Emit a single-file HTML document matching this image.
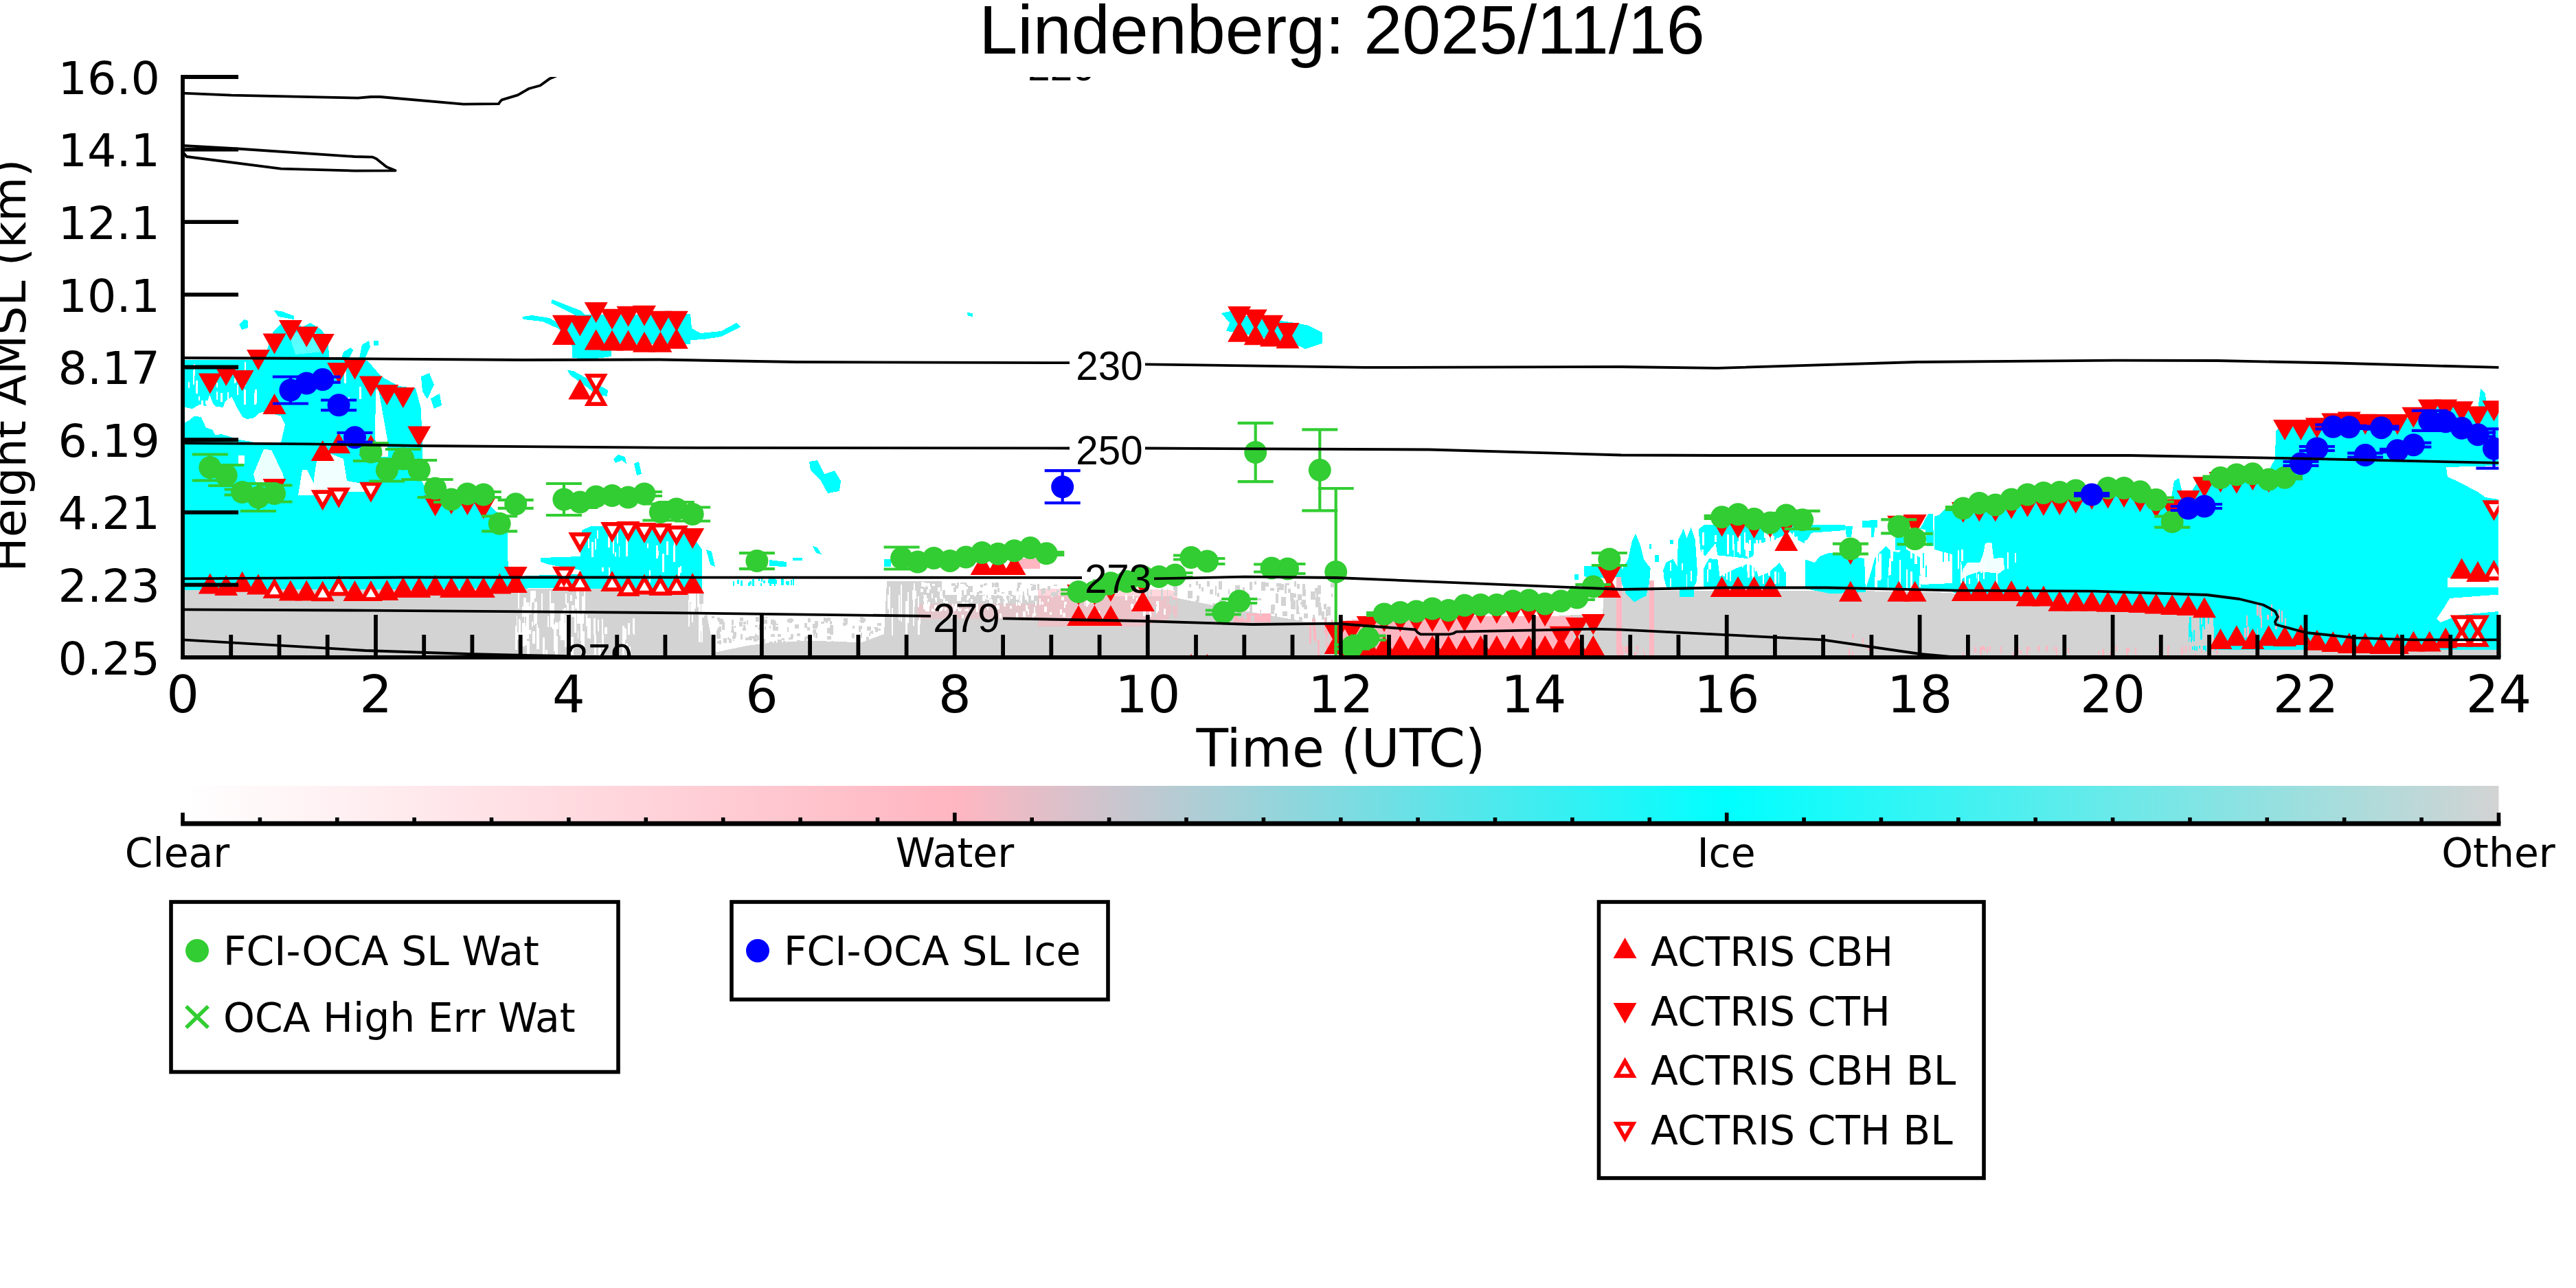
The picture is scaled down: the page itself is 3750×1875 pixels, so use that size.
<!DOCTYPE html>
<html lang="en"><head><meta charset="utf-8"><title>Lindenberg: 2025/11/16</title>
<style>html,body{margin:0;padding:0;background:#fff;}body{width:3750px;height:1875px;overflow:hidden;}svg{display:block;}.dv{font-family:"DejaVu Sans","Liberation Sans",sans-serif;fill:#000;}.lb{font-family:"Liberation Sans","DejaVu Sans",sans-serif;fill:#000;}</style></head><body>
<svg width="3750" height="1875" viewBox="0 0 3750 1875">
<defs>
<clipPath id="ax"><rect x="266.0" y="112.0" width="3371.5" height="845.0"/></clipPath>
<linearGradient id="cb" x1="0" x2="1" y1="0" y2="0"><stop offset="0" stop-color="#ffffff"/><stop offset="0.3333" stop-color="#ffb6c1"/><stop offset="0.6667" stop-color="#00ffff"/><stop offset="1" stop-color="#d3d3d3"/></linearGradient>
</defs>
<rect x="0" y="0" width="3750" height="1875" fill="#fff"/>
<g clip-path="url(#ax)">
<g shape-rendering="crispEdges">
<path d="M266.0 858.0 L740.0 857.0 L1022.0 857.0 L1025.0 866.0 L1030.0 900.0 L1040.0 950.0 L1087.0 940.0 L1116.0 936.5 L1175.0 932.6 L1233.0 934.5 L1252.0 936.0 L1287.0 923.0 L1291.0 846.0 L1371.0 846.0 L1371.0 866.0 L1700.0 868.0 L1760.0 880.0 L1900.0 905.0 L1945.0 908.0 L1945.0 957.0 L266.0 957.0Z" fill="#d3d3d3"/>
<path d="M2254.0 912.0 L2270.0 896.0 L2333.0 894.0 L2335.0 862.0 L2360.0 860.0 L2420.0 860.0 L2700.0 860.0 L2816.0 862.0 L2850.0 864.0 L3050.0 882.0 L3180.0 890.0 L3228.0 900.0 L3228.0 946.0 L3640.0 946.0 L3640.0 957.0 L2254.0 957.0Z" fill="#d3d3d3"/>
<path d="M1990.0 897.0 L2290.0 897.0 L2290.0 957.0 L1990.0 957.0Z" fill="#ffb6c1"/>
<path d="M1945.0 905.0 L1990.0 900.0 L1990.0 957.0 L1945.0 957.0Z" fill="#ffb6c1"/>
<path d="M1796.0 893.0 L1850.0 893.0 L1850.0 906.0 L1796.0 906.0Z" fill="#ffb6c1"/>
<path d="M1480.0 813.0 L1514.0 813.0 L1514.0 828.0 L1480.0 828.0Z" fill="#ffb6c1"/>
<path d="M2401.0 845.0 L2408.0 845.0 L2408.0 955.0 L2401.0 955.0Z" fill="#ffb6c1"/>
<path d="M2353.0 835.0 L2361.0 835.0 L2361.0 955.0 L2353.0 955.0Z" fill="#ffb6c1"/>
<path d="M1511.0 857.0 L1660.0 857.0 L1714.0 860.0 L1714.0 898.0 L1660.0 912.0 L1511.0 912.0Z" fill="#ffb6c1" fill-opacity="0.55"/>
<path d="M1335.0 879.0 L1511.0 879.0 L1511.0 901.0 L1335.0 901.0Z" fill="#ffb6c1" fill-opacity="0.4"/>
<path d="M266.0 524.0 L386.0 524.0 L390.0 505.0 L398.0 482.0 L410.0 470.0 L425.0 466.0 L440.0 476.0 L452.0 470.0 L468.0 480.0 L478.0 495.0 L479.0 524.0 L535.0 525.0 L555.0 548.0 L580.0 562.0 L605.0 565.0 L612.5 593.0 L615.0 640.0 L614.0 700.0 L622.0 716.0 L640.0 722.0 L700.0 722.0 L722.0 745.0 L738.0 750.0 L740.0 838.0 L768.0 840.0 L768.0 857.0 L266.0 859.0Z" fill="#00ffff"/>
<path d="M764.0 838.0 L847.0 836.0 L847.0 856.0 L764.0 856.0Z" fill="#00ffff"/>
<path d="M847.0 772.0 L860.0 766.0 L1000.0 767.0 L1015.0 790.0 L1022.0 800.0 L1022.0 857.0 L843.0 857.0 L845.0 830.0 L800.0 822.0 L787.0 818.0 L787.0 812.0 L845.0 810.0Z" fill="#00ffff"/>
<path d="M1028.0 800.0 L1036.0 803.0 L1041.0 825.0 L1034.0 822.0Z" fill="#00ffff"/>
<path d="M1120.0 815.0 L1145.0 818.0 L1145.0 825.0 L1120.0 824.0Z" fill="#00ffff"/>
<path d="M1154.0 812.0 L1168.0 812.0 L1168.0 816.0 L1154.0 816.0Z" fill="#00ffff"/>
<path d="M1178.0 672.0 L1190.0 670.0 L1200.0 690.0 L1215.0 685.0 L1224.0 700.0 L1222.0 715.0 L1205.0 718.0 L1195.0 700.0 L1180.0 685.0Z" fill="#00ffff"/>
<path d="M1183.0 795.0 L1190.0 797.0 L1196.0 807.0 L1188.0 805.0Z" fill="#00ffff"/>
<path d="M1287.0 814.0 L1297.0 814.0 L1297.0 825.0 L1287.0 825.0Z" fill="#00ffff"/>
<path d="M893.0 668.0 L900.0 662.0 L910.0 665.0 L912.0 675.0 L905.0 670.0 L896.0 674.0Z" fill="#00ffff"/>
<path d="M923.0 675.0 L930.0 672.0 L934.0 690.0 L927.0 692.0Z" fill="#00ffff"/>
<path d="M613.0 548.0 L625.0 543.0 L632.0 560.0 L622.0 581.0 L615.0 570.0Z" fill="#00ffff"/>
<path d="M627.0 580.0 L640.0 573.0 L643.0 590.0 L632.0 595.0Z" fill="#00ffff"/>
<path d="M348.0 472.0 L355.0 465.0 L361.0 467.0 L361.0 477.0 L352.0 480.0Z" fill="#00ffff"/>
<path d="M399.0 452.0 L410.0 453.0 L428.0 460.0 L428.0 465.0 L405.0 461.0Z" fill="#00ffff"/>
<path d="M495.0 528.0 L500.0 512.0 L511.0 506.0 L514.0 510.0 L505.0 528.0Z" fill="#00ffff"/>
<path d="M523.0 522.0 L527.0 502.0 L537.0 496.0 L539.0 505.0 L531.0 522.0Z" fill="#00ffff"/>
<path d="M544.0 496.0 L551.0 496.0 L551.0 503.0 L544.0 503.0Z" fill="#00ffff"/>
<path d="M760.0 461.0 L775.0 459.0 L800.0 463.0 L812.0 470.0 L830.0 468.0 L836.0 458.0 L802.0 441.0 L804.0 436.0 L845.0 452.0 L852.0 458.0 L1005.0 457.0 L1007.0 478.0 L1020.0 485.0 L1050.0 482.0 L1072.0 470.0 L1078.0 476.0 L1050.0 490.0 L1025.0 494.0 L1005.0 495.0 L1005.0 501.0 L890.0 501.0 L890.0 519.0 L860.0 523.0 L833.0 521.0 L833.0 505.0 L828.0 490.0 L812.0 478.0 L790.0 468.0 L762.0 465.0Z" fill="#00ffff"/>
<path d="M826.0 539.0 L835.0 540.0 L885.0 568.0 L884.0 577.0 L870.0 575.0 L830.0 546.0Z" fill="#00ffff"/>
<path d="M1778.0 456.0 L1795.0 452.0 L1802.0 458.0 L1885.0 470.0 L1905.0 474.0 L1925.0 484.0 L1925.0 500.0 L1900.0 508.0 L1883.0 500.0 L1800.0 484.0 L1785.0 482.0 L1790.0 470.0Z" fill="#00ffff"/>
<path d="M1408.0 455.0 L1416.0 456.0 L1416.0 461.0 L1409.0 460.0Z" fill="#00ffff"/>
<path d="M2306.4 823.9 L2360.7 823.9 L2360.7 839.4 L2340.0 842.0 L2306.4 839.4Z" fill="#00ffff"/>
<path d="M2292.0 836.0 L2298.0 836.0 L2298.0 844.0 L2292.0 844.0Z" fill="#00ffff"/>
<path d="M2381.0 776.5 L2388.7 796.0 L2393.0 814.5 L2402.7 827.0 L2401.0 848.7 L2396.5 867.0 L2379.0 876.6 L2367.0 864.0 L2360.7 848.7 L2359.0 833.0 L2370.0 814.5 L2376.0 786.6Z" fill="#00ffff"/>
<path d="M2431.0 786.0 L2436.0 786.0 L2436.0 792.0 L2431.0 792.0Z" fill="#00ffff"/>
<path d="M2401.0 792.0 L2404.0 792.0 L2404.0 799.0 L2401.0 799.0Z" fill="#00ffff"/>
<path d="M2409.0 808.0 L2415.0 808.0 L2415.0 818.0 L2409.0 818.0Z" fill="#00ffff"/>
<path d="M2421.3 830.0 L2425.2 819.2 L2435.3 813.8 L2441.5 823.9 L2443.0 786.6 L2450.8 769.5 L2455.5 783.5 L2461.7 768.0 L2467.9 786.6 L2471.0 833.2 L2469.4 848.7 L2464.8 855.0 L2426.0 855.0 L2422.0 841.0Z" fill="#00ffff"/>
<path d="M2444.6 857.0 L2466.3 857.0 L2466.3 868.9 L2444.6 868.9Z" fill="#00ffff"/>
<path d="M2472.5 771.0 L2480.3 764.0 L2686.0 764.5 L2686.0 772.0 L2637.0 775.7 L2627.8 791.2 L2618.5 786.6 L2606.0 774.2 L2582.8 786.6 L2559.5 791.2 L2551.7 809.9 L2544.0 813.0 L2500.5 808.3 L2497.4 791.2 L2481.9 809.9 L2475.7 802.1Z" fill="#00ffff"/>
<path d="M2480.3 827.0 L2488.0 813.0 L2500.5 814.5 L2503.6 839.4 L2528.4 827.0 L2544.0 820.7 L2556.4 827.0 L2559.5 839.4 L2575.0 833.2 L2590.6 819.2 L2599.9 833.2 L2599.9 857.0 L2480.3 857.0Z" fill="#00ffff"/>
<path d="M2627.8 814.5 L2641.8 819.2 L2649.0 810.0 L2663.0 804.6 L2679.0 807.0 L2714.0 813.0 L2716.0 862.0 L2665.0 864.2 L2627.8 857.0Z" fill="#00ffff"/>
<path d="M2686.0 766.0 L2697.0 766.0 L2695.0 782.0 L2688.0 782.0Z" fill="#00ffff"/>
<path d="M2710.6 758.0 L2733.0 757.0 L2733.0 768.0 L2729.0 768.0 L2728.0 782.0 L2724.0 782.0 L2724.0 768.0 L2710.6 768.0Z" fill="#00ffff"/>
<path d="M2729.0 813.0 L2736.0 804.0 L2745.6 794.5 L2752.0 802.0 L2764.0 804.0 L2772.0 797.6 L2795.0 811.6 L2795.0 828.7 L2797.0 857.0 L2716.0 857.0 L2724.0 831.8Z" fill="#00ffff"/>
<path d="M2759.0 782.0 L2775.0 782.0 L2775.0 801.0 L2759.0 801.0Z" fill="#00ffff"/>
<path d="M2795.0 770.0 L2807.0 748.0 L2814.0 748.0 L2815.0 795.0 L2805.0 795.0 L2803.0 771.0Z" fill="#00ffff"/>
<path d="M2797.0 851.0 L2842.0 849.0 L2842.0 860.0 L2797.0 860.0Z" fill="#00ffff"/>
<path d="M2820.0 801.0 L2815.5 800.0 L2815.5 752.0 L2822.0 750.0 L2833.0 740.0 L2860.0 734.0 L2930.0 728.0 L3020.0 720.0 L3067.0 714.0 L3114.0 716.0 L3137.0 726.0 L3160.0 730.0 L3165.0 700.0 L3172.0 696.0 L3178.0 722.0 L3190.0 716.0 L3200.0 700.0 L3215.0 692.0 L3300.0 690.0 L3312.0 668.0 L3313.0 628.0 L3322.0 616.0 L3400.0 612.0 L3500.0 612.0 L3512.0 603.0 L3530.0 590.0 L3590.0 590.0 L3607.0 597.0 L3611.0 566.0 L3618.0 572.0 L3620.0 596.0 L3637.0 592.0 L3637.0 946.0 L3224.0 946.0 L3222.0 900.0 L3213.0 892.0 L3050.0 882.0 L2849.0 864.0 L2842.0 862.0 L2842.0 807.0Z" fill="#00ffff"/>
<path d="M269.0 593.0 L280.0 595.0 L291.0 588.5 L300.0 591.6 L305.0 574.5 L310.0 587.0 L314.0 591.6 L325.0 593.0 L328.0 584.0 L337.6 577.6 L344.0 591.6 L353.0 607.0 L359.0 610.0 L369.0 608.7 L378.0 601.0 L384.0 599.4 L409.0 605.6 L415.0 618.0 L409.0 644.4 L369.0 643.6 L347.0 639.8 L333.0 635.0 L322.0 632.0 L313.0 633.5 L309.7 625.8 L300.0 622.7 L292.6 607.0 L283.0 605.6 L275.5 611.8 L269.0 615.0Z" fill="#ffffff"/>
<path d="M547.0 567.0 L551.0 567.0 L564.0 640.0 L565.0 665.0 L555.0 665.0 L546.0 640.0Z" fill="#ffffff"/>
<path d="M384.0 654.0 L395.0 655.0 L412.0 690.0 L414.0 702.0 L372.0 702.0 L369.0 690.0Z" fill="#ffffff" fill-opacity="0.92"/>
<path d="M440.0 684.0 L447.0 684.0 L466.0 721.0 L434.0 721.0Z" fill="#ffffff"/>
<path d="M462.0 664.0 L480.0 660.0 L500.0 668.0 L505.0 700.0 L532.0 705.0 L532.0 716.0 L500.0 716.0 L470.0 719.0 L455.0 716.0 L458.0 690.0Z" fill="#ffffff" fill-opacity="0.95"/>
<path d="M347.0 663.0 L356.0 663.0 L356.0 675.0 L347.0 675.0Z" fill="#ffffff"/>
<path d="M420.0 484.0 L460.0 484.0 L470.0 512.0 L430.0 516.0Z" fill="#ffffff" fill-opacity="0.35"/>
<path d="M2890.0 790.7 L2899.3 789.9 L2902.4 813.2 L2916.4 811.6 L2918.0 828.7 L2910.0 834.9 L2882.0 831.8 L2863.6 838.0 L2854.3 844.2 L2857.4 828.7 L2863.6 819.4 L2882.0 819.4 L2887.0 807.0Z" fill="#ffffff" fill-opacity="0.95"/>
<path d="M3561.0 680.0 L3637.0 678.0 L3637.0 727.0 L3618.0 724.0 L3607.0 716.0 L3580.0 702.0 L3563.0 694.0Z" fill="#ffffff"/>
<path d="M3563.0 841.0 L3637.0 841.0 L3637.0 855.0 L3563.0 855.0Z" fill="#ffffff"/>
<path d="M3637.0 865.5 L3566.0 871.0 L3558.0 884.6 L3547.0 901.0 L3553.0 906.0 L3580.0 895.4 L3637.0 890.0Z" fill="#ffffff"/>
<path d="M348.2 539.0h2.2v9.5h-2.2zM280.5 538.5h2.2v21.5h-2.2zM288.8 576.6h2.5v6.4h-2.5zM293.1 583.0h3.0v9.0h-3.0zM344.7 559.8h2.0v15.3h-2.0zM354.7 567.2h2.9v21.4h-2.9zM322.6 535.5h2.7v15.9h-2.7zM356.2 527.0h1.9v20.6h-1.9zM354.6 552.2h2.9v9.6h-2.9zM341.3 549.8h1.9v8.6h-1.9zM370.4 571.7h2.4v16.8h-2.4zM330.8 570.7h2.4v21.3h-2.4zM285.3 554.1h2.7v18.9h-2.7zM315.1 557.3h2.3v6.6h-2.3zM342.5 551.3h1.5v5.2h-1.5zM371.1 567.1h3.0v19.5h-3.0zM282.1 529.7h1.8v17.3h-1.8zM274.1 556.0h2.1v9.2h-2.1zM298.9 583.0h2.9v6.3h-2.9zM321.3 572.3h2.3v12.9h-2.3zM314.5 570.2h2.2v11.9h-2.2z" fill="#fff"/>
<path d="M507.0 578.4h1.9v13.5h-1.9zM540.0 549.4h1.8v14.4h-1.8zM523.0 563.3h3.0v17.4h-3.0zM542.5 551.4h2.4v11.1h-2.4zM501.2 538.0h3.0v19.5h-3.0z" fill="#fff"/>
<path d="M2532.4 786.5h2.0v20.0h-2.0zM2477.0 800.0h2.8v9.4h-2.8zM2629.3 786.0h2.0v13.2h-2.0zM2573.3 775.0h3.2v17.4h-3.2zM2555.7 786.3h2.8v25.7h-2.8zM2591.9 791.8h2.8v9.4h-2.8zM2609.1 788.2h2.1v8.7h-2.1zM2585.0 790.8h2.9v21.2h-2.9zM2543.8 792.3h2.3v19.7h-2.3zM2495.9 779.1h3.3v10.1h-3.3zM2571.2 778.7h3.4v17.6h-3.4zM2529.2 787.8h2.5v16.5h-2.5zM2580.3 790.6h2.7v21.4h-2.7zM2578.2 775.0h3.2v25.0h-3.2zM2614.1 780.6h3.2v29.2h-3.2zM2603.1 789.5h2.9v12.6h-2.9zM2607.3 805.1h2.1v6.9h-2.1zM2538.8 775.0h1.7v22.0h-1.7zM2610.2 775.0h2.1v18.6h-2.1zM2585.8 783.4h2.7v9.0h-2.7zM2552.7 791.3h3.3v20.7h-3.3zM2567.9 775.0h2.1v7.8h-2.1zM2569.7 775.0h1.9v16.6h-1.9zM2523.8 792.0h1.6v20.0h-1.6zM2545.8 786.0h3.3v16.3h-3.3zM2561.2 786.4h2.8v21.1h-2.8zM2541.2 790.4h3.4v19.2h-3.4zM2626.6 786.8h2.0v14.6h-2.0zM2539.1 792.1h2.6v8.3h-2.6zM2573.3 775.0h1.5v16.8h-1.5zM2579.8 780.0h2.8v18.3h-2.8zM2478.4 775.0h2.9v18.6h-2.9zM2513.7 777.8h2.9v29.2h-2.9zM2531.2 780.2h2.7v15.0h-2.7zM2521.5 779.4h2.2v21.1h-2.2zM2562.6 797.1h3.0v8.6h-3.0z" fill="#fff"/>
<path d="M2526.7 816.7h2.0v10.3h-2.0zM2588.7 832.6h1.6v16.8h-1.6zM2542.8 819.4h3.0v12.9h-3.0zM2505.3 840.5h1.8v9.5h-1.8zM2573.5 815.0h3.2v22.8h-3.2zM2566.3 830.9h2.1v19.1h-2.1zM2550.7 832.9h3.3v9.9h-3.3zM2535.6 815.0h2.5v11.0h-2.5zM2543.9 815.0h3.4v26.2h-3.4zM2583.0 831.5h3.3v18.5h-3.3zM2550.4 822.0h2.5v17.1h-2.5zM2576.0 815.0h1.8v11.6h-1.8zM2513.2 822.5h1.6v21.8h-1.6zM2597.2 816.0h2.4v15.5h-2.4zM2554.4 819.6h2.3v12.5h-2.3zM2517.8 821.8h2.2v24.4h-2.2zM2487.2 819.0h3.3v10.2h-3.3zM2507.8 817.3h3.0v21.5h-3.0zM2485.1 828.9h1.9v18.1h-1.9z" fill="#fff"/>
<path d="M2780.9 831.6h2.7v25.4h-2.7zM2730.9 805.6h3.0v37.7h-3.0zM2787.2 795.0h3.4v26.3h-3.4zM2764.6 821.4h2.4v17.4h-2.4zM2747.6 840.8h1.5v16.2h-1.5zM2780.8 798.3h3.0v14.8h-3.0zM2729.1 840.1h2.7v13.8h-2.7zM2793.9 838.4h1.9v16.5h-1.9zM2764.5 814.8h2.1v38.8h-2.1zM2774.6 828.7h1.9v28.3h-1.9zM2752.4 798.3h3.3v19.0h-3.3zM2749.0 825.9h1.8v12.0h-1.8zM2751.5 801.4h1.5v30.3h-1.5zM2749.5 812.8h3.1v24.4h-3.1zM2792.5 795.0h2.9v9.5h-2.9zM2730.2 822.1h3.0v34.9h-3.0z" fill="#fff"/>
<path d="M2735.1 806.0h3.6v28.9h-3.6zM2735.6 818.6h2.0v26.4h-2.0zM2733.1 818.4h2.7v26.6h-2.7zM2735.7 819.3h3.5v23.3h-3.5z" fill="#fff"/>
<path d="M2853.5 818.3h1.8v29.2h-1.8zM2933.3 805.3h1.6v13.4h-1.6zM2883.0 815.7h2.5v18.1h-2.5zM2850.2 801.4h1.8v26.3h-1.8zM2879.3 835.9h1.5v13.9h-1.5zM2865.5 842.3h2.1v7.7h-2.1zM2876.5 820.8h1.6v21.6h-1.6zM2887.3 819.5h2.0v23.2h-2.0zM2854.8 800.0h2.9v17.2h-2.9zM2859.5 834.6h2.9v15.4h-2.9zM2921.8 804.3h2.4v24.0h-2.4zM2854.3 821.7h2.0v27.3h-2.0zM2906.1 831.7h1.6v18.3h-1.6z" fill="#fff"/>
<path d="M2802.9 823.4h2.2v16.6h-2.2zM2836.1 800.0h1.5v16.6h-1.5zM2798.7 805.1h2.3v22.3h-2.3zM2827.8 800.0h2.6v18.4h-2.6z" fill="#0ff"/>
<path d="M3207.5 895.0h2.2v20.6h-2.2zM3193.3 916.5h1.5v17.5h-1.5zM3203.4 909.0h2.5v22.0h-2.5zM3189.0 918.8h1.7v16.2h-1.7zM3185.8 907.3h1.6v26.4h-1.6zM3214.2 895.0h2.0v13.3h-2.0zM3202.0 895.0h1.6v22.4h-1.6zM3187.1 898.3h3.0v28.9h-3.0zM3206.2 895.6h1.7v16.3h-1.7zM3189.2 920.7h2.5v11.0h-2.5z" fill="#0ff"/>
<path d="M2454.5 836.4h1.9v18.6h-1.9zM2431.4 819.4h1.8v11.9h-1.8zM2447.5 819.6h2.6v10.2h-2.6zM2461.1 831.0h1.9v15.3h-1.9zM2431.4 841.6h1.5v12.7h-1.5z" fill="#fff"/>
<path d="M891.9 783.5h1.7v22.1h-1.7zM886.1 826.1h2.2v14.5h-2.2zM895.4 803.5h1.6v6.5h-1.6zM876.1 826.2h2.6v6.0h-2.6zM898.4 772.0h1.8v18.9h-1.8zM900.5 795.1h1.5v16.3h-1.5zM856.4 784.3h1.8v14.0h-1.8zM866.2 784.4h2.2v15.4h-2.2zM869.0 772.0h1.8v11.9h-1.8zM885.3 780.7h2.8v16.6h-2.8zM860.7 788.9h3.0v22.3h-3.0z" fill="#fff"/>
<path d="M911.3 785.0h2.9v24.5h-2.9zM980.2 794.4h2.8v23.7h-2.8zM970.4 787.5h2.4v20.6h-2.4zM986.6 836.9h2.1v11.1h-2.1zM954.9 794.1h2.9v19.1h-2.9zM957.7 802.2h1.6v6.7h-1.6zM964.4 805.9h2.1v27.4h-2.1zM941.8 791.3h1.9v6.6h-1.9zM981.0 785.3h2.3v30.0h-2.3zM987.4 825.5h2.8v22.5h-2.8zM944.7 829.5h2.6v18.5h-2.6zM989.5 824.3h2.9v9.9h-2.9z" fill="#fff"/>
<path d="M1119.2 842.0h2.9v6.6h-2.9zM1125.8 842.0h3.5v8.0h-3.5zM1089.0 848.2h2.8v4.8h-2.8zM1144.3 846.3h4.0v4.3h-4.0zM1128.5 844.1h2.5v6.0h-2.5zM1078.2 845.2h3.2v7.8h-3.2zM1121.8 842.0h4.0v7.8h-4.0zM1154.0 843.3h1.5v4.9h-1.5zM1095.1 842.7h2.4v10.3h-2.4zM1120.0 848.4h2.6v4.5h-2.6zM1104.4 842.0h1.9v4.2h-1.9zM1126.7 842.9h2.7v9.7h-2.7zM1117.8 843.8h3.6v5.0h-3.6zM1137.3 842.0h3.0v4.2h-3.0zM1154.2 842.2h1.9v9.7h-1.9zM1091.4 845.7h2.5v5.7h-2.5zM1108.4 842.0h1.9v4.8h-1.9zM1137.4 842.5h3.1v9.7h-3.1zM1066.5 845.7h2.4v7.0h-2.4zM1073.4 843.9h2.3v6.2h-2.3zM1146.0 845.6h3.0v6.7h-3.0zM1150.6 843.8h2.1v7.7h-2.1zM1111.0 844.9h3.0v4.4h-3.0zM1120.1 844.3h2.5v6.9h-2.5zM1106.7 849.1h2.7v3.9h-2.7z" fill="#0ff"/>
<path d="M3225.0 940.7h2.2v6.2h-2.2zM3197.0 940.9h2.3v6.3h-2.3zM3193.5 940.0h2.4v6.6h-2.4zM3216.6 940.0h1.6v5.3h-1.6zM3214.2 940.6h3.0v7.4h-3.0zM3210.2 940.0h1.7v3.2h-1.7zM3191.1 941.3h1.8v5.0h-1.8zM3209.6 941.0h2.2v7.0h-2.2zM3207.3 940.0h2.2v6.1h-2.2zM3221.1 941.0h3.0v7.0h-3.0zM3201.0 940.0h2.0v3.9h-2.0z" fill="#0ff"/>
<path d="M830.7 926.5h4.7v28.5h-4.7zM847.4 924.9h2.4v27.6h-2.4zM793.8 946.2h3.5v8.8h-3.5zM852.7 894.6h1.9v16.9h-1.9zM847.9 884.6h2.2v16.8h-2.2zM836.2 893.2h3.0v27.3h-3.0zM753.8 860.4h1.8v25.5h-1.8zM780.6 908.5h2.2v29.6h-2.2zM752.5 921.2h2.1v10.0h-2.1zM775.1 860.0h4.5v10.6h-4.5zM764.5 912.4h3.8v16.2h-3.8zM766.3 908.9h3.6v21.2h-3.6zM767.5 934.3h3.4v20.7h-3.4zM855.1 899.5h4.5v29.5h-4.5zM815.2 904.3h2.7v10.0h-2.7zM839.8 860.0h3.0v36.9h-3.0zM818.7 887.4h4.6v6.1h-4.6zM806.2 909.2h4.1v38.4h-4.1zM762.7 889.4h1.7v28.7h-1.7zM830.2 866.0h2.7v8.5h-2.7zM821.3 884.8h2.4v8.9h-2.4zM773.8 904.7h1.7v6.9h-1.7zM822.3 906.6h1.5v6.8h-1.5zM763.6 879.3h2.0v16.6h-2.0zM771.2 876.3h2.9v13.4h-2.9zM845.2 907.6h2.6v24.9h-2.6zM770.2 916.9h3.1v6.1h-3.1zM847.3 873.6h2.9v34.8h-2.9zM822.5 863.9h2.8v16.1h-2.8zM790.1 927.5h2.5v27.5h-2.5zM799.5 860.0h2.9v32.2h-2.9zM847.7 918.9h3.5v13.2h-3.5zM808.3 926.2h3.4v28.8h-3.4zM781.2 932.7h4.0v12.1h-4.0zM754.5 907.6h1.8v39.4h-1.8zM813.9 904.8h3.7v19.8h-3.7zM755.3 913.4h2.8v15.6h-2.8zM840.4 889.1h4.6v18.8h-4.6zM849.7 860.0h2.4v30.7h-2.4zM831.7 880.8h4.5v16.9h-4.5zM771.7 860.0h5.0v16.8h-5.0zM838.6 860.0h2.0v8.2h-2.0zM765.3 925.1h1.9v14.1h-1.9zM788.0 863.5h1.5v29.2h-1.5zM776.6 886.3h2.3v23.9h-2.3zM825.2 877.5h2.9v24.2h-2.9zM781.5 914.2h3.6v30.3h-3.6zM788.1 864.0h1.8v22.8h-1.8zM801.4 878.2h3.8v35.0h-3.8zM816.2 892.5h4.7v39.7h-4.7zM822.5 895.8h3.7v29.9h-3.7zM818.3 894.2h4.1v31.4h-4.1zM804.4 883.6h2.8v13.3h-2.8zM846.8 868.0h3.1v12.1h-3.1zM846.0 927.3h4.6v25.3h-4.6zM857.5 914.2h2.1v15.3h-2.1zM760.4 882.6h1.8v15.0h-1.8zM754.8 901.3h1.8v7.3h-1.8zM821.1 909.0h4.0v23.3h-4.0zM804.3 885.8h2.0v30.0h-2.0zM822.1 920.7h4.9v21.5h-4.9zM770.3 882.9h3.2v11.2h-3.2zM757.3 921.1h2.2v19.6h-2.2zM762.1 870.0h4.2v27.6h-4.2zM826.6 919.4h4.6v35.6h-4.6zM797.0 897.2h2.2v15.8h-2.2zM837.1 872.1h2.8v14.3h-2.8zM766.1 877.2h3.5v33.7h-3.5zM848.2 933.2h2.8v15.7h-2.8zM814.3 903.8h2.0v8.3h-2.0zM844.9 894.9h1.6v35.4h-1.6zM840.6 917.9h1.8v12.5h-1.8zM754.6 903.3h3.1v37.8h-3.1zM760.1 907.1h4.4v34.1h-4.4zM766.9 932.7h3.5v22.3h-3.5zM807.9 905.8h4.9v10.0h-4.9zM775.4 919.1h3.1v17.4h-3.1zM804.1 878.3h3.3v21.3h-3.3zM777.7 875.6h4.6v32.1h-4.6zM846.0 929.7h3.4v25.3h-3.4zM751.5 896.1h1.7v35.4h-1.7zM774.2 862.8h4.2v12.1h-4.2zM750.1 911.1h3.0v34.4h-3.0z" fill="#fff"/>
<path d="M871.3 936.6h3.3v18.4h-3.3zM865.8 928.3h2.0v22.1h-2.0zM905.7 928.2h1.9v23.0h-1.9zM921.6 900.0h2.6v23.9h-2.6zM906.0 910.6h2.8v29.0h-2.8zM865.3 924.4h2.3v28.9h-2.3zM880.1 912.7h3.6v9.8h-3.6zM915.5 940.9h2.9v14.1h-2.9zM864.4 900.0h2.3v23.5h-2.3zM910.7 937.0h3.2v18.0h-3.2zM905.6 942.6h3.6v12.4h-3.6zM869.8 901.5h1.7v17.9h-1.7zM920.7 900.0h2.7v21.5h-2.7zM907.6 913.9h2.8v29.9h-2.8zM876.4 923.6h2.1v21.1h-2.1zM909.2 915.1h3.1v15.4h-3.1zM875.6 900.5h2.7v26.0h-2.7zM914.3 907.1h2.9v16.4h-2.9z" fill="#fff"/>
<path d="M1321.4 862.0h1.7v44.5h-1.7zM1329.3 861.4h1.8v49.6h-1.8zM1292.1 865.5h2.3v21.8h-2.3zM1328.2 859.1h2.4v13.5h-2.4zM1338.0 897.1h1.8v12.1h-1.8zM1293.5 854.4h2.8v40.8h-2.8zM1335.6 868.0h2.2v15.8h-2.2zM1297.8 885.2h1.7v39.8h-1.7zM1307.7 865.7h2.2v37.6h-2.2zM1332.0 859.9h1.8v11.9h-1.8zM1335.9 903.2h2.7v20.4h-2.7zM1318.3 875.2h2.6v48.1h-2.6zM1330.3 849.0h1.7v33.8h-1.7zM1310.5 850.6h2.9v54.4h-2.9z" fill="#fff"/>
<path d="M1472.3 852.5h3.1v7.6h-3.1zM1346.6 884.0h4.6v5.8h-4.6zM1406.7 869.8h2.8v3.8h-2.8zM1471.2 865.5h2.4v6.1h-2.4zM1468.4 851.8h4.4v5.7h-4.4zM1356.3 885.5h3.1v4.5h-3.1zM1431.0 863.0h3.9v2.6h-3.9zM1412.5 848.1h2.6v3.0h-2.6zM1359.9 881.2h3.7v5.1h-3.7zM1469.0 854.5h2.1v3.0h-2.1zM1408.3 865.1h3.3v5.4h-3.3zM1349.0 878.9h3.5v4.9h-3.5zM1404.2 880.4h2.8v2.3h-2.8zM1414.6 853.8h3.9v4.7h-3.9zM1350.0 850.3h3.9v4.1h-3.9zM1479.1 875.6h2.3v6.1h-2.3zM1489.6 861.2h2.7v2.9h-2.7zM1437.5 867.0h2.5v5.4h-2.5zM1417.5 864.3h3.4v3.8h-3.4zM1395.4 886.1h4.0v3.9h-4.0zM1405.8 877.4h2.3v6.5h-2.3zM1435.1 854.0h4.1v5.4h-4.1zM1380.9 848.7h2.0v6.5h-2.0zM1345.0 866.0h4.4v5.5h-4.4zM1382.7 882.5h2.5v7.2h-2.5zM1403.8 886.8h3.8v2.5h-3.8zM1397.4 856.8h4.1v2.9h-4.1zM1449.6 853.4h2.3v5.6h-2.3zM1479.5 850.9h3.7v7.2h-3.7zM1391.5 850.6h2.2v7.5h-2.2zM1451.7 874.3h4.4v3.6h-4.4zM1385.5 878.5h2.9v4.8h-2.9zM1474.8 856.7h2.9v3.6h-2.9zM1340.3 856.5h3.3v5.1h-3.3zM1393.2 863.1h4.2v7.9h-4.2zM1396.8 865.6h2.2v4.9h-2.2zM1483.5 877.8h2.9v3.9h-2.9zM1348.2 849.4h3.1v2.4h-3.1zM1422.1 849.8h2.4v5.5h-2.4zM1450.2 881.4h4.6v6.0h-4.6zM1493.3 881.1h2.9v7.4h-2.9zM1495.4 848.3h2.1v7.1h-2.1zM1345.0 873.1h4.6v6.9h-4.6zM1349.0 884.2h4.3v5.8h-4.3zM1489.4 865.9h2.2v2.5h-2.2zM1438.2 856.0h2.5v4.4h-2.5zM1400.0 859.4h4.7v6.1h-4.7zM1388.4 881.8h2.3v7.9h-2.3zM1367.5 865.5h3.6v5.2h-3.6zM1436.7 883.6h2.3v4.7h-2.3zM1463.9 850.7h2.7v3.1h-2.7zM1407.3 886.3h2.6v3.7h-2.6zM1413.0 849.5h2.2v7.2h-2.2zM1367.8 861.1h2.7v7.5h-2.7zM1450.5 875.5h2.1v4.9h-2.1zM1469.6 881.6h3.0v4.6h-3.0zM1487.1 860.1h3.3v2.3h-3.3zM1343.4 850.2h3.4v2.3h-3.4zM1464.1 851.1h3.6v3.6h-3.6zM1396.0 886.0h4.0v2.1h-4.0zM1344.9 881.9h2.8v3.9h-2.8zM1427.8 856.3h3.5v3.5h-3.5zM1350.5 853.8h4.7v4.6h-4.7zM1356.2 864.1h2.2v6.6h-2.2zM1440.2 872.2h3.8v2.6h-3.8zM1491.9 865.3h4.8v7.6h-4.8zM1360.7 869.7h3.5v4.6h-3.5zM1472.3 855.6h5.0v5.0h-5.0zM1492.2 860.2h3.1v4.5h-3.1zM1458.1 865.4h4.3v2.9h-4.3zM1380.5 883.7h5.0v2.1h-5.0zM1476.3 863.1h3.3v3.7h-3.3zM1349.4 848.6h4.6v5.3h-4.6zM1366.2 884.5h4.6v5.5h-4.6zM1460.1 866.7h4.5v5.2h-4.5zM1393.7 882.9h2.1v3.8h-2.1zM1439.5 849.0h2.8v6.2h-2.8zM1453.7 859.2h3.4v5.3h-3.4zM1343.9 880.3h5.0v6.8h-5.0zM1375.7 875.4h3.8v7.6h-3.8zM1395.3 870.1h4.1v4.4h-4.1zM1439.7 872.7h4.9v6.1h-4.9zM1450.6 846.0h4.5v5.4h-4.5zM1429.7 867.1h4.6v7.8h-4.6zM1478.5 867.3h4.8v5.4h-4.8zM1484.4 868.2h3.7v7.5h-3.7zM1413.2 859.9h3.6v5.3h-3.6zM1374.9 884.9h2.7v3.7h-2.7zM1413.9 884.8h3.2v5.2h-3.2zM1406.4 856.1h3.8v4.1h-3.8zM1383.7 861.2h3.0v3.7h-3.0zM1467.7 857.7h2.1v7.7h-2.1zM1435.9 870.8h4.5v2.3h-4.5zM1434.5 877.5h4.6v7.9h-4.6zM1356.9 850.1h4.1v2.6h-4.1zM1395.0 865.5h4.3v4.8h-4.3zM1469.6 859.9h4.8v4.9h-4.8zM1368.6 881.6h4.0v6.7h-4.0zM1492.5 855.1h2.6v2.9h-2.6zM1372.7 870.7h3.3v7.6h-3.3zM1357.7 887.5h4.2v2.5h-4.2zM1438.2 864.6h4.5v6.0h-4.5zM1384.1 857.7h4.7v2.1h-4.7zM1378.7 848.2h3.9v7.6h-3.9zM1437.4 849.8h2.7v7.1h-2.7zM1349.0 858.1h4.1v4.4h-4.1zM1400.3 875.6h4.6v7.7h-4.6zM1369.6 859.6h4.8v2.6h-4.8zM1494.8 852.5h3.0v5.8h-3.0zM1454.8 850.7h2.8v5.1h-2.8zM1460.5 859.1h3.7v5.7h-3.7zM1399.0 863.1h3.0v5.5h-3.0zM1494.3 850.8h4.3v7.8h-4.3zM1426.3 852.7h3.6v5.3h-3.6zM1370.4 865.2h3.0v4.4h-3.0zM1364.5 854.6h4.7v6.0h-4.7zM1344.9 847.5h3.1v7.0h-3.1zM1368.6 867.7h4.5v4.2h-4.5zM1480.4 846.6h2.1v6.3h-2.1zM1388.9 855.9h3.6v7.6h-3.6zM1346.8 871.3h4.6v2.0h-4.6zM1446.8 861.7h4.5v5.4h-4.5zM1427.3 852.2h4.9v3.9h-4.9zM1351.4 875.8h2.9v5.7h-2.9zM1361.5 869.9h2.7v6.7h-2.7zM1463.1 874.4h3.5v3.5h-3.5zM1406.7 876.5h3.2v5.3h-3.2zM1430.1 848.0h2.1v2.3h-2.1zM1376.3 851.3h4.6v7.3h-4.6zM1419.0 850.2h4.6v2.4h-4.6zM1444.5 856.8h5.0v4.5h-5.0zM1340.8 847.4h4.6v6.4h-4.6zM1344.1 871.2h2.9v4.0h-2.9zM1458.6 856.2h2.1v5.2h-2.1zM1461.0 875.4h2.9v7.1h-2.9zM1397.9 865.9h2.3v3.5h-2.3zM1430.0 846.7h4.3v7.4h-4.3zM1489.0 847.9h2.1v4.4h-2.1zM1343.7 865.8h4.9v2.1h-4.9zM1494.7 886.0h2.2v4.0h-2.2z" fill="#fff"/>
<path d="M1378.7 897.0h3.9v3.0h-3.9zM1584.0 876.0h2.0v4.1h-2.0zM1683.1 874.7h3.7v5.1h-3.7zM1594.4 889.8h3.0v10.2h-3.0zM1658.1 884.2h3.3v3.4h-3.3zM1648.7 883.3h2.3v4.7h-2.3zM1683.5 880.0h3.8v10.0h-3.8zM1455.2 892.7h3.2v7.3h-3.2zM1682.9 882.5h2.3v10.0h-2.3zM1589.4 868.4h1.9v10.4h-1.9zM1381.6 892.2h1.6v7.8h-1.6zM1504.6 884.2h2.8v7.7h-2.8zM1492.6 882.7h3.8v5.8h-3.8zM1548.5 876.8h2.2v8.4h-2.2zM1399.7 894.5h3.2v5.5h-3.2zM1502.6 893.0h2.4v6.9h-2.4zM1501.3 866.7h3.9v7.6h-3.9zM1548.8 875.9h3.7v4.5h-3.7zM1433.5 866.0h2.3v5.5h-2.3zM1582.1 869.0h2.8v10.2h-2.8zM1504.8 892.0h3.2v3.5h-3.2zM1646.3 879.4h3.8v7.1h-3.8zM1694.3 886.3h2.8v8.3h-2.8zM1580.9 873.8h2.7v9.5h-2.7zM1569.1 891.0h3.5v9.0h-3.5zM1578.8 874.3h1.5v7.5h-1.5zM1513.1 871.4h1.9v9.2h-1.9zM1486.3 866.0h1.6v11.7h-1.6zM1654.2 870.2h2.0v5.3h-2.0zM1524.6 871.6h2.2v3.9h-2.2zM1673.2 888.3h2.4v9.6h-2.4zM1648.9 866.0h1.6v5.5h-1.6zM1496.1 887.1h2.0v7.4h-2.0zM1452.1 871.0h3.3v7.2h-3.3zM1588.6 870.1h2.2v3.6h-2.2zM1389.5 878.6h3.7v8.8h-3.7zM1529.7 866.0h3.0v3.3h-3.0zM1576.8 897.4h3.4v2.6h-3.4zM1544.9 868.9h3.6v5.1h-3.6zM1638.1 866.0h2.4v7.8h-2.4zM1428.3 887.8h2.4v8.8h-2.4zM1488.8 889.8h3.7v8.0h-3.7zM1461.6 869.7h2.8v4.7h-2.8zM1597.7 889.0h3.6v7.6h-3.6zM1502.9 892.7h3.9v4.7h-3.9zM1584.5 870.2h3.4v6.5h-3.4zM1495.2 872.7h1.9v3.5h-1.9zM1420.9 878.8h2.8v11.7h-2.8zM1542.5 887.0h3.7v8.4h-3.7zM1595.8 886.2h1.6v11.5h-1.6zM1392.7 870.6h3.6v3.9h-3.6zM1667.6 874.7h2.8v11.4h-2.8zM1479.3 892.3h3.1v7.7h-3.1zM1664.1 887.3h3.9v9.5h-3.9zM1462.7 871.8h3.1v5.9h-3.1zM1468.7 866.0h1.6v8.6h-1.6zM1516.4 875.6h2.3v3.9h-2.3zM1506.7 874.8h1.9v7.3h-1.9zM1547.2 892.1h3.5v5.8h-3.5zM1384.2 894.0h3.9v6.0h-3.9zM1412.8 872.2h2.8v5.0h-2.8zM1387.0 896.8h2.3v3.2h-2.3zM1527.5 890.8h3.6v4.0h-3.6zM1481.8 877.3h2.8v3.6h-2.8zM1520.3 882.9h3.8v8.2h-3.8z" fill="#fff"/>
<path d="M1025.2 860.0h3.8v31.8h-3.8zM1015.4 862.2h3.0v21.6h-3.0zM1006.6 883.4h2.0v22.2h-2.0zM1021.6 886.6h1.6v10.7h-1.6zM1010.5 860.0h2.8v25.6h-2.8zM1018.8 891.8h3.5v26.9h-3.5zM1021.3 878.9h3.9v19.6h-3.9zM1009.1 860.0h2.9v25.8h-2.9zM1017.3 878.7h2.7v31.0h-2.7zM1005.2 878.3h3.1v13.8h-3.1zM1003.3 862.6h3.5v14.3h-3.5zM1017.4 911.0h1.6v16.8h-1.6zM1008.6 874.5h2.3v19.8h-2.3zM1007.4 860.0h3.4v24.8h-3.4zM1023.6 865.7h3.5v30.6h-3.5zM1017.3 905.5h2.9v29.5h-2.9zM1001.7 872.9h1.9v39.2h-1.9zM1020.9 909.7h1.6v25.3h-1.6z" fill="#fff"/>
<path d="M1134.4 923.5h2.0v2.7h-2.0zM1093.5 926.4h2.6v2.7h-2.6zM1202.1 900.3h2.6v6.4h-2.6zM1138.5 934.6h4.1v3.4h-4.1zM1272.4 912.5h2.4v2.1h-2.4zM1127.0 933.4h2.8v4.0h-2.8zM1182.5 917.7h2.8v3.3h-2.8zM1123.6 902.7h5.8v7.0h-5.8zM1042.6 922.4h5.3v7.9h-5.3zM1089.5 926.0h5.5v5.9h-5.5zM1195.3 904.8h4.9v3.2h-4.9zM1119.5 911.4h2.2v4.0h-2.2zM1275.7 932.2h4.6v5.8h-4.6zM1111.3 901.7h6.0v6.7h-6.0zM1204.0 899.1h4.5v5.3h-4.5zM1186.7 921.2h2.8v7.5h-2.8zM1264.9 921.2h2.4v4.4h-2.4zM1148.3 927.8h6.0v3.2h-6.0zM1176.1 899.5h3.8v6.7h-3.8zM1065.1 902.0h2.4v7.9h-2.4zM1249.9 913.4h3.3v6.3h-3.3zM1104.8 909.2h4.0v6.7h-4.0zM1044.5 899.6h4.5v5.8h-4.5zM1209.9 932.5h2.6v5.5h-2.6zM1226.3 934.9h5.1v3.1h-5.1zM1129.4 907.7h3.4v2.1h-3.4zM1066.5 931.0h2.7v2.3h-2.7zM1087.2 902.8h2.2v5.7h-2.2zM1080.9 913.8h5.3v3.8h-5.3zM1250.1 911.1h4.8v5.1h-4.8zM1150.8 922.7h4.1v6.3h-4.1zM1066.0 927.4h3.9v2.8h-3.9zM1207.5 916.7h5.0v7.7h-5.0zM1065.0 911.1h2.7v7.1h-2.7zM1112.5 912.4h2.6v4.3h-2.6zM1095.7 925.7h4.8v5.2h-4.8zM1043.2 918.4h4.9v7.0h-4.9zM1085.4 928.1h5.6v3.6h-5.6zM1240.7 910.8h3.5v4.4h-3.5zM1122.2 923.7h2.8v3.3h-2.8zM1051.6 904.6h3.5v6.6h-3.5zM1160.2 932.1h4.5v4.9h-4.5zM1043.5 915.3h3.1v3.1h-3.1zM1036.4 897.0h3.2v3.4h-3.2zM1110.6 930.1h3.5v6.5h-3.5zM1229.8 904.8h4.3v4.4h-4.3zM1170.5 907.1h4.4v7.1h-4.4zM1082.4 909.9h2.4v5.4h-2.4zM1203.9 914.4h4.2v7.6h-4.2zM1131.7 922.6h5.4v3.9h-5.4zM1138.0 928.7h4.2v3.3h-4.2zM1047.1 931.9h3.0v6.1h-3.0zM1281.1 927.2h4.7v3.9h-4.7zM1159.3 935.5h2.2v2.5h-2.2zM1113.9 898.1h2.6v2.3h-2.6zM1145.7 900.9h3.6v5.2h-3.6zM1146.3 913.3h2.1v6.8h-2.1zM1261.2 927.1h3.9v6.1h-3.9zM1077.2 899.3h4.9v4.0h-4.9zM1177.1 932.7h5.4v2.3h-5.4zM1140.2 932.8h3.3v4.3h-3.3zM1044.7 922.8h4.7v7.0h-4.7zM1240.1 924.5h3.8v4.4h-3.8zM1261.9 911.5h5.6v6.4h-5.6zM1148.7 900.2h4.2v6.7h-4.2zM1253.2 899.6h4.3v7.2h-4.3zM1120.8 934.0h3.5v3.4h-3.5zM1103.5 913.2h3.7v3.9h-3.7zM1081.6 904.7h4.7v4.1h-4.7zM1077.7 923.4h3.0v7.4h-3.0zM1102.2 924.9h2.4v6.7h-2.4zM1058.7 928.3h3.7v2.5h-3.7zM1123.3 922.5h4.2v4.9h-4.2zM1185.9 908.9h3.9v2.4h-3.9zM1228.2 900.1h5.4v5.3h-5.4zM1247.9 929.5h4.8v5.7h-4.8zM1227.4 905.6h4.2v5.6h-4.2zM1184.1 915.8h4.2v6.7h-4.2zM1099.6 897.5h5.4v7.9h-5.4zM1277.9 915.0h4.5v2.9h-4.5zM1253.2 900.4h4.1v6.9h-4.1zM1150.7 901.4h3.8v3.1h-3.8zM1132.1 931.1h5.5v4.1h-5.5zM1159.8 921.9h5.3v4.0h-5.3zM1251.3 902.6h2.8v2.8h-2.8zM1183.0 908.4h4.8v6.4h-4.8zM1052.7 929.4h5.4v6.7h-5.4zM1077.2 899.8h4.5v3.7h-4.5zM1121.9 901.7h5.2v7.1h-5.2zM1110.3 897.7h2.3v4.5h-2.3zM1051.4 910.4h3.2v6.9h-3.2zM1044.1 899.1h4.1v3.0h-4.1zM1252.5 921.3h2.6v7.8h-2.6zM1097.2 930.1h5.6v4.0h-5.6zM1125.0 910.4h4.4v7.5h-4.4zM1076.4 904.8h4.9v7.3h-4.9zM1268.6 917.5h2.1v5.4h-2.1zM1199.0 899.2h2.6v6.1h-2.6zM1157.3 908.5h5.7v6.0h-5.7zM1127.3 904.7h2.6v4.8h-2.6zM1274.0 932.6h4.6v5.4h-4.6zM1129.2 911.8h3.9v6.3h-3.9zM1045.5 912.2h4.3v7.9h-4.3zM1274.2 913.0h3.3v6.8h-3.3zM1183.5 921.7h2.3v5.6h-2.3zM1172.3 925.6h5.1v4.8h-5.1zM1208.9 934.7h2.1v3.3h-2.1zM1277.3 906.9h5.8v3.7h-5.8zM1186.4 911.7h3.8v3.0h-3.8zM1067.0 919.6h4.7v7.7h-4.7zM1043.8 933.0h4.4v3.6h-4.4zM1060.6 930.1h4.8v5.8h-4.8zM1174.9 913.0h3.6v4.8h-3.6zM1203.8 925.8h5.8v4.8h-5.8zM1119.7 933.9h5.7v3.0h-5.7zM1255.9 900.4h4.4v4.2h-4.4zM1204.0 915.8h3.0v2.4h-3.0zM1098.8 923.4h3.2v4.6h-3.2zM1252.1 897.5h5.0v4.3h-5.0zM1064.4 918.4h4.3v2.9h-4.3zM1068.9 911.3h2.3v2.4h-2.3zM1065.5 926.2h5.3v3.7h-5.3zM1047.3 900.8h5.3v8.0h-5.3zM1170.6 928.0h3.7v7.9h-3.7zM1208.2 904.4h2.9v4.8h-2.9zM1239.7 921.5h4.1v6.9h-4.1zM1186.1 904.0h5.3v8.0h-5.3zM1266.6 919.2h2.9v2.3h-2.9zM1208.1 909.8h4.4v7.2h-4.4zM1098.5 910.0h4.3v2.5h-4.3z" fill="#d3d3d3"/>
<path d="M1423.0 863.7h2.3v3.5h-2.3zM1388.0 854.6h4.0v7.0h-4.0zM1530.3 861.9h5.4v5.7h-5.4zM1499.8 849.8h3.5v2.0h-3.5zM1515.9 860.2h2.0v7.1h-2.0zM1384.7 849.2h5.8v3.4h-5.8zM1397.8 848.0h5.9v2.3h-5.9zM1431.7 850.4h2.2v2.3h-2.2zM1399.6 859.0h3.2v8.5h-3.2zM1468.3 859.8h5.0v6.0h-5.0zM1426.9 851.4h4.3v3.6h-4.3zM1443.7 848.0h3.6v7.4h-3.6zM1446.8 857.6h3.9v7.7h-3.9zM1484.6 848.2h2.4v2.4h-2.4zM1404.1 848.0h3.2v3.9h-3.2zM1489.4 861.1h2.0v6.9h-2.0zM1517.7 855.6h4.0v8.7h-4.0zM1409.3 853.0h4.1v5.6h-4.1zM1514.7 856.5h4.9v3.4h-4.9zM1480.6 848.0h4.4v7.8h-4.4zM1375.7 865.7h3.0v2.0h-3.0zM1503.4 850.6h4.4v8.8h-4.4zM1447.7 848.0h5.9v7.3h-5.9zM1433.4 848.6h3.3v3.2h-3.3zM1406.6 858.2h4.9v8.9h-4.9zM1524.9 853.1h4.3v5.4h-4.3zM1533.9 850.8h5.3v2.2h-5.3zM1495.1 856.8h2.0v8.2h-2.0zM1390.3 852.4h5.1v4.6h-5.1zM1409.7 852.6h5.8v8.9h-5.8zM1371.9 859.3h3.8v8.3h-3.8zM1393.1 848.0h3.0v5.6h-3.0zM1534.7 861.7h5.5v5.5h-5.5zM1470.6 866.1h5.0v1.9h-5.0zM1402.4 866.0h4.0v2.0h-4.0zM1424.5 860.1h5.9v3.7h-5.9zM1538.3 858.6h4.0v3.3h-4.0zM1458.0 861.7h3.5v2.2h-3.5zM1495.0 864.7h2.7v2.6h-2.7zM1479.5 855.7h3.5v5.3h-3.5zM1406.3 850.5h2.5v3.9h-2.5zM1408.6 861.9h2.4v4.7h-2.4zM1509.5 849.8h3.3v8.7h-3.3zM1452.2 855.6h2.6v6.0h-2.6zM1501.2 854.2h2.5v5.7h-2.5zM1421.6 862.0h3.0v6.0h-3.0zM1446.7 850.3h4.8v2.0h-4.8z" fill="#d3d3d3"/>
<path d="M1896.2 858.3h4.9v10.0h-4.9zM1917.9 852.2h5.3v12.8h-5.3zM1820.7 896.3h5.3v8.7h-5.3zM1926.8 879.1h4.6v7.9h-4.6zM1819.8 847.0h3.5v6.4h-3.5zM1802.3 888.9h5.0v11.1h-5.0zM1862.4 849.8h6.6v9.1h-6.6zM1769.0 853.3h2.3v13.8h-2.3zM1729.4 860.2h6.5v11.2h-6.5zM1701.5 873.9h3.2v6.0h-3.2zM1744.8 850.0h3.5v7.3h-3.5zM1881.5 872.4h2.2v12.6h-2.2zM1729.0 862.7h2.6v4.6h-2.6zM1749.2 855.1h2.3v6.0h-2.3zM1813.5 863.6h5.3v8.0h-5.3zM1774.0 846.3h4.7v11.6h-4.7zM1887.8 850.1h4.4v7.2h-4.4zM1829.4 870.7h6.4v3.2h-6.4zM1869.5 851.0h3.6v12.8h-3.6zM1708.1 847.9h4.5v9.7h-4.5zM1811.0 865.7h5.0v11.0h-5.0zM1910.8 898.7h4.5v5.9h-4.5zM1795.5 891.4h4.4v3.2h-4.4zM1744.7 885.6h3.6v4.2h-3.6zM1849.6 887.2h5.1v6.1h-5.1zM1803.4 886.2h6.8v12.1h-6.8zM1878.9 873.9h6.6v12.6h-6.6zM1850.3 881.3h4.6v12.4h-4.6zM1765.4 878.3h3.1v4.0h-3.1zM1745.3 898.5h4.9v5.2h-4.9zM1887.3 872.9h2.4v13.2h-2.4zM1701.6 894.3h7.0v10.5h-7.0zM1896.1 849.5h4.1v13.1h-4.1zM1889.5 890.7h2.2v3.2h-2.2zM1788.6 890.5h3.1v4.2h-3.1zM1931.7 883.0h5.7v12.5h-5.7zM1701.5 894.8h6.2v3.2h-6.2zM1730.8 862.8h5.1v6.6h-5.1zM1808.6 854.7h3.7v8.5h-3.7zM1731.1 850.1h2.4v5.2h-2.4zM1892.7 875.8h4.1v4.4h-4.1zM1756.5 846.0h4.3v8.3h-4.3zM1787.6 858.2h2.4v6.7h-2.4zM1702.1 866.7h3.5v12.2h-3.5zM1874.7 856.9h3.9v6.1h-3.9zM1937.5 864.3h2.2v4.8h-2.2zM1856.4 893.1h2.6v11.9h-2.6zM1710.0 855.3h3.7v11.9h-3.7zM1888.7 864.8h6.0v8.7h-6.0zM1848.8 855.7h6.4v3.9h-6.4zM1804.1 886.0h3.0v12.7h-3.0zM1919.2 876.9h3.4v11.0h-3.4zM1929.9 886.8h3.2v10.4h-3.2zM1723.7 886.9h4.2v7.4h-4.2zM1708.0 853.7h2.8v5.4h-2.8zM1742.2 867.2h3.9v8.2h-3.9zM1732.4 874.8h5.8v4.1h-5.8zM1835.7 847.0h6.5v13.1h-6.5zM1914.6 870.2h6.4v13.9h-6.4zM1890.6 898.1h3.9v6.9h-3.9zM1774.7 873.4h4.5v8.6h-4.5zM1810.1 895.9h4.7v6.1h-4.7zM1773.7 892.9h3.2v5.8h-3.2zM1924.3 889.8h3.5v12.1h-3.5zM1807.6 891.3h6.0v5.1h-6.0zM1910.6 894.6h3.2v9.6h-3.2zM1707.5 862.8h3.8v4.3h-3.8zM1897.9 880.9h4.7v6.1h-4.7zM1778.8 877.6h5.1v12.1h-5.1zM1727.7 888.7h3.8v6.2h-3.8zM1870.9 848.6h6.5v3.3h-6.5zM1917.5 868.5h4.1v6.5h-4.1zM1761.2 857.6h4.6v6.9h-4.6zM1833.5 887.7h2.3v3.2h-2.3zM1936.9 848.7h5.4v5.9h-5.4zM1743.2 898.1h4.2v6.7h-4.2zM1742.4 891.0h5.6v4.4h-5.6zM1771.5 862.5h3.9v6.3h-3.9zM1842.1 847.6h4.9v6.4h-4.9zM1776.9 891.1h4.7v9.4h-4.7zM1798.1 852.0h6.6v10.2h-6.6zM1739.6 874.2h5.1v6.2h-5.1zM1883.9 846.0h3.0v7.7h-3.0zM1780.8 885.7h5.2v5.1h-5.2zM1879.7 863.6h6.8v6.5h-6.8zM1858.4 849.3h6.7v4.9h-6.7zM1919.4 884.4h4.8v11.2h-4.8zM1851.4 880.1h4.7v7.4h-4.7zM1878.8 894.0h5.1v10.9h-5.1zM1877.6 862.7h5.1v12.6h-5.1zM1898.0 893.3h6.0v7.0h-6.0zM1865.2 868.9h6.5v13.0h-6.5zM1915.6 862.7h3.4v10.0h-3.4zM1920.0 853.8h3.1v11.3h-3.1zM1833.7 892.4h2.7v4.2h-2.7zM1711.2 853.9h3.2v11.7h-3.2zM1818.6 880.1h4.7v11.3h-4.7zM1825.6 846.0h3.8v5.1h-3.8zM1858.8 855.0h3.0v6.9h-3.0zM1857.4 863.8h3.2v13.9h-3.2zM1895.3 873.3h5.9v10.9h-5.9zM1802.8 867.3h5.1v4.1h-5.1zM1914.2 856.4h3.3v7.0h-3.3zM1741.0 846.0h2.6v6.0h-2.6zM1706.3 872.7h6.6v9.0h-6.6zM1928.8 898.0h2.9v7.0h-2.9zM1818.8 846.9h4.0v11.6h-4.0zM1887.4 881.6h4.0v11.9h-4.0zM1867.2 889.8h6.9v7.2h-6.9zM1908.1 860.6h6.6v12.6h-6.6zM1728.9 860.0h3.9v9.8h-3.9zM1744.7 881.6h3.9v5.3h-3.9zM1892.7 899.4h3.5v3.6h-3.5z" fill="#d3d3d3"/>
<path d="M2361.2 940.0h2.2v10.7h-2.2zM2364.8 941.1h2.9v9.3h-2.9zM2361.1 948.5h2.8v6.5h-2.8zM2383.7 942.5h1.7v9.1h-1.7zM2382.4 940.0h2.9v5.2h-2.9zM2379.0 949.2h2.9v5.2h-2.9zM2392.6 949.6h2.8v4.8h-2.8zM2368.6 940.0h2.0v8.7h-2.0zM2391.6 943.8h1.7v6.5h-1.7zM2367.8 941.2h3.0v11.2h-3.0z" fill="#ffb6c1"/>
<path d="M2696.3 948.1h2.1v5.8h-2.1zM2710.8 929.1h2.4v9.5h-2.4zM2719.2 938.3h2.6v8.6h-2.6zM2695.8 922.5h2.8v7.5h-2.8zM2714.5 938.8h2.6v5.3h-2.6zM2691.3 943.7h1.6v10.3h-1.6z" fill="#ffb6c1"/>
<path d="M2953.8 941.7h2.5v4.2h-2.5zM3186.7 940.0h2.6v7.6h-2.6zM2932.6 945.5h2.1v4.2h-2.1zM3096.0 945.3h1.5v5.6h-1.5zM3156.1 940.0h1.8v6.2h-1.8zM2978.4 940.0h2.7v8.4h-2.7zM2885.0 940.0h2.9v5.9h-2.9zM3154.5 945.7h2.8v8.8h-2.8zM2993.0 942.1h2.3v11.8h-2.3zM3175.1 943.9h2.7v8.9h-2.7zM2936.0 942.5h2.6v4.4h-2.6zM2888.2 941.8h1.6v5.9h-1.6zM2989.8 940.5h2.5v6.9h-2.5zM3095.0 942.9h1.9v11.5h-1.9zM2911.8 941.2h1.8v9.8h-1.8zM3060.0 945.0h3.0v9.1h-3.0zM2936.4 940.0h2.8v7.5h-2.8zM2929.8 950.0h2.0v5.0h-2.0zM3097.2 942.9h2.8v6.5h-2.8zM2949.9 940.6h2.9v7.7h-2.9zM3070.8 949.4h2.3v5.6h-2.3zM3227.0 944.7h2.1v5.8h-2.1zM2891.5 947.0h1.6v4.4h-1.6zM2874.0 942.4h2.7v7.4h-2.7zM3216.1 947.6h3.0v7.4h-3.0zM3108.0 943.0h1.5v9.8h-1.5zM2892.2 942.2h1.9v9.1h-1.9zM3180.9 940.0h2.2v10.9h-2.2zM3194.7 949.5h2.3v5.4h-2.3zM3080.2 940.0h1.9v8.1h-1.9zM3143.8 943.7h2.6v8.3h-2.6zM2857.4 949.5h1.5v5.5h-1.5zM2966.0 940.0h2.8v8.1h-2.8zM2882.3 941.6h2.8v11.6h-2.8zM3139.8 940.0h1.6v8.5h-1.6zM2950.1 947.6h2.2v7.4h-2.2zM3053.8 947.6h2.1v5.7h-2.1zM3226.4 946.1h1.8v6.5h-1.8zM2895.7 940.2h2.2v8.1h-2.2zM2937.0 940.0h2.0v8.6h-2.0zM2936.6 947.6h1.6v7.4h-1.6zM2939.8 947.4h2.8v4.6h-2.8zM3203.8 945.9h1.8v5.1h-1.8zM3155.1 940.0h2.2v9.3h-2.2zM3010.3 943.4h1.6v7.4h-1.6zM3221.4 940.0h2.6v7.7h-2.6zM3175.6 941.0h2.1v6.7h-2.1z" fill="#ffb6c1"/>
<path d="M3269.9 895.5h1.6v15.7h-1.6zM3290.6 896.4h2.5v17.1h-2.5zM3285.5 914.9h1.5v12.1h-1.5zM3289.4 882.7h2.3v16.6h-2.3zM3285.3 880.0h2.8v16.4h-2.8zM3312.3 902.9h2.3v12.9h-2.3zM3285.5 880.0h2.3v12.0h-2.3zM3317.4 886.8h1.6v19.2h-1.6zM3266.9 914.2h2.8v13.3h-2.8zM3305.9 880.0h2.4v17.3h-2.4zM3320.7 889.2h2.4v17.0h-2.4zM3271.3 912.3h2.3v15.8h-2.3zM3299.8 895.4h2.7v6.7h-2.7zM3326.1 900.1h1.8v14.5h-1.8z" fill="#ffb6c1"/>
<path d="M1937.7 902.3h2.1v19.9h-2.1zM1909.5 900.0h1.8v6.5h-1.8zM1942.9 927.0h1.7v19.3h-1.7zM1931.2 910.7h2.1v16.9h-2.1zM1928.7 900.0h1.6v23.5h-1.6zM1941.8 902.5h1.6v10.1h-1.6zM1906.3 907.9h2.4v29.3h-2.4zM1912.1 902.8h2.2v28.2h-2.2zM1930.7 939.2h1.9v9.1h-1.9zM1932.0 935.3h2.2v8.8h-2.2zM1936.2 926.3h2.5v15.2h-2.5zM1913.8 915.5h2.4v19.9h-2.4zM1917.9 930.6h2.7v23.0h-2.7zM1910.9 908.8h2.8v9.0h-2.8zM1929.9 917.2h1.5v24.6h-1.5zM1912.4 900.7h3.0v15.8h-3.0zM1928.0 900.0h2.0v21.1h-2.0zM1928.6 903.6h2.1v9.1h-2.1z" fill="#ffb6c1"/>
<path d="M1664.3 862.7h1.9v18.7h-1.9zM1674.9 859.0h1.6v8.2h-1.6zM1661.9 869.2h2.0v24.4h-2.0zM1698.5 857.0h1.7v24.3h-1.7zM1663.8 862.7h2.8v23.8h-2.8zM1668.9 857.0h2.6v27.3h-2.6zM1664.8 857.0h2.7v23.1h-2.7zM1679.9 883.2h2.6v14.8h-2.6zM1704.6 873.7h2.6v22.5h-2.6zM1690.4 857.0h2.7v17.4h-2.7z" fill="#d3d3d3"/>
</g>
<path d="M288.8 864.5 L322.8 864.5 L305.8 834.5Z" fill="#f00"/>
<path d="M312.2 867.0 L346.2 867.0 L329.2 837.0Z" fill="#f00"/>
<path d="M335.6 861.8 L369.6 861.8 L352.6 831.8Z" fill="#f00"/>
<path d="M359.0 865.6 L393.0 865.6 L376.0 835.6Z" fill="#f00"/>
<path d="M405.9 874.6 L439.9 874.6 L422.9 844.6Z" fill="#f00"/>
<path d="M429.3 874.6 L463.3 874.6 L446.3 844.6Z" fill="#f00"/>
<path d="M499.5 875.0 L533.5 875.0 L516.5 845.0Z" fill="#f00"/>
<path d="M546.3 874.0 L580.3 874.0 L563.3 844.0Z" fill="#f00"/>
<path d="M569.8 870.0 L603.8 870.0 L586.8 840.0Z" fill="#f00"/>
<path d="M593.2 870.0 L627.2 870.0 L610.2 840.0Z" fill="#f00"/>
<path d="M616.6 867.0 L650.6 867.0 L633.6 837.0Z" fill="#f00"/>
<path d="M640.0 870.0 L674.0 870.0 L657.0 840.0Z" fill="#f00"/>
<path d="M663.4 870.0 L697.4 870.0 L680.4 840.0Z" fill="#f00"/>
<path d="M686.8 870.0 L720.8 870.0 L703.8 840.0Z" fill="#f00"/>
<path d="M710.2 864.5 L744.2 864.5 L727.2 834.5Z" fill="#f00"/>
<path d="M733.7 863.0 L767.7 863.0 L750.7 833.0Z" fill="#f00"/>
<path d="M382.5 603.0 L416.5 603.0 L399.5 573.0Z" fill="#f00"/>
<path d="M452.7 671.0 L486.7 671.0 L469.7 641.0Z" fill="#f00"/>
<path d="M476.1 660.0 L510.1 660.0 L493.1 630.0Z" fill="#f00"/>
<path d="M522.9 662.7 L556.9 662.7 L539.9 632.7Z" fill="#f00"/>
<path d="M803.9 502.0 L837.9 502.0 L820.9 472.0Z" fill="#f00"/>
<path d="M827.3 581.5 L861.3 581.5 L844.3 551.5Z" fill="#f00"/>
<path d="M850.7 509.6 L884.7 509.6 L867.7 479.6Z" fill="#f00"/>
<path d="M874.1 510.5 L908.1 510.5 L891.1 480.5Z" fill="#f00"/>
<path d="M897.5 510.5 L931.5 510.5 L914.5 480.5Z" fill="#f00"/>
<path d="M921.0 512.8 L955.0 512.8 L938.0 482.8Z" fill="#f00"/>
<path d="M944.4 512.8 L978.4 512.8 L961.4 482.8Z" fill="#f00"/>
<path d="M967.8 507.7 L1001.8 507.7 L984.8 477.7Z" fill="#f00"/>
<path d="M991.2 864.0 L1025.2 864.0 L1008.2 834.0Z" fill="#f00"/>
<path d="M1412.6 837.0 L1446.6 837.0 L1429.6 807.0Z" fill="#f00"/>
<path d="M1436.0 837.0 L1470.0 837.0 L1453.0 807.0Z" fill="#f00"/>
<path d="M1459.5 837.0 L1493.5 837.0 L1476.5 807.0Z" fill="#f00"/>
<path d="M1553.1 911.0 L1587.1 911.0 L1570.1 881.0Z" fill="#f00"/>
<path d="M1576.5 911.0 L1610.5 911.0 L1593.5 881.0Z" fill="#f00"/>
<path d="M1599.9 911.0 L1633.9 911.0 L1616.9 881.0Z" fill="#f00"/>
<path d="M1646.8 890.0 L1680.8 890.0 L1663.8 860.0Z" fill="#f00"/>
<path d="M1717.0 982.0 L1751.0 982.0 L1734.0 952.0Z" fill="#f00"/>
<path d="M1740.4 982.0 L1774.4 982.0 L1757.4 952.0Z" fill="#f00"/>
<path d="M1787.2 497.7 L1821.2 497.7 L1804.2 467.7Z" fill="#f00"/>
<path d="M1810.7 502.3 L1844.7 502.3 L1827.7 472.3Z" fill="#f00"/>
<path d="M1834.1 504.5 L1868.1 504.5 L1851.1 474.5Z" fill="#f00"/>
<path d="M1857.5 507.2 L1891.5 507.2 L1874.5 477.2Z" fill="#f00"/>
<path d="M1927.7 952.0 L1961.7 952.0 L1944.7 922.0Z" fill="#f00"/>
<path d="M1951.1 955.0 L1985.1 955.0 L1968.1 925.0Z" fill="#f00"/>
<path d="M1974.6 955.0 L2008.6 955.0 L1991.6 925.0Z" fill="#f00"/>
<path d="M1998.0 955.0 L2032.0 955.0 L2015.0 925.0Z" fill="#f00"/>
<path d="M2021.4 955.0 L2055.4 955.0 L2038.4 925.0Z" fill="#f00"/>
<path d="M2044.8 955.0 L2078.8 955.0 L2061.8 925.0Z" fill="#f00"/>
<path d="M2068.2 955.0 L2102.2 955.0 L2085.2 925.0Z" fill="#f00"/>
<path d="M2091.6 955.0 L2125.6 955.0 L2108.6 925.0Z" fill="#f00"/>
<path d="M2115.0 955.0 L2149.0 955.0 L2132.0 925.0Z" fill="#f00"/>
<path d="M2138.4 955.0 L2172.4 955.0 L2155.4 925.0Z" fill="#f00"/>
<path d="M2161.9 955.0 L2195.9 955.0 L2178.9 925.0Z" fill="#f00"/>
<path d="M2185.3 955.0 L2219.3 955.0 L2202.3 925.0Z" fill="#f00"/>
<path d="M2208.7 955.0 L2242.7 955.0 L2225.7 925.0Z" fill="#f00"/>
<path d="M2232.1 955.0 L2266.1 955.0 L2249.1 925.0Z" fill="#f00"/>
<path d="M2255.5 955.0 L2289.5 955.0 L2272.5 925.0Z" fill="#f00"/>
<path d="M2278.9 955.0 L2312.9 955.0 L2295.9 925.0Z" fill="#f00"/>
<path d="M2302.3 955.0 L2336.3 955.0 L2319.3 925.0Z" fill="#f00"/>
<path d="M2325.8 870.0 L2359.8 870.0 L2342.8 840.0Z" fill="#f00"/>
<path d="M2489.6 869.0 L2523.6 869.0 L2506.6 839.0Z" fill="#f00"/>
<path d="M2513.1 869.0 L2547.1 869.0 L2530.1 839.0Z" fill="#f00"/>
<path d="M2536.5 869.0 L2570.5 869.0 L2553.5 839.0Z" fill="#f00"/>
<path d="M2559.9 869.0 L2593.9 869.0 L2576.9 839.0Z" fill="#f00"/>
<path d="M2583.3 802.0 L2617.3 802.0 L2600.3 772.0Z" fill="#f00"/>
<path d="M2676.9 875.7 L2710.9 875.7 L2693.9 845.7Z" fill="#f00"/>
<path d="M2747.2 875.7 L2781.2 875.7 L2764.2 845.7Z" fill="#f00"/>
<path d="M2770.6 875.7 L2804.6 875.7 L2787.6 845.7Z" fill="#f00"/>
<path d="M2840.8 875.0 L2874.8 875.0 L2857.8 845.0Z" fill="#f00"/>
<path d="M2864.3 875.0 L2898.3 875.0 L2881.3 845.0Z" fill="#f00"/>
<path d="M2887.7 875.0 L2921.7 875.0 L2904.7 845.0Z" fill="#f00"/>
<path d="M2911.1 875.0 L2945.1 875.0 L2928.1 845.0Z" fill="#f00"/>
<path d="M2934.5 882.5 L2968.5 882.5 L2951.5 852.5Z" fill="#f00"/>
<path d="M2957.9 882.5 L2991.9 882.5 L2974.9 852.5Z" fill="#f00"/>
<path d="M2981.3 889.8 L3015.3 889.8 L2998.3 859.8Z" fill="#f00"/>
<path d="M3004.7 889.8 L3038.7 889.8 L3021.7 859.8Z" fill="#f00"/>
<path d="M3028.1 889.8 L3062.1 889.8 L3045.1 859.8Z" fill="#f00"/>
<path d="M3051.6 890.8 L3085.6 890.8 L3068.6 860.8Z" fill="#f00"/>
<path d="M3075.0 891.0 L3109.0 891.0 L3092.0 861.0Z" fill="#f00"/>
<path d="M3098.4 892.0 L3132.4 892.0 L3115.4 862.0Z" fill="#f00"/>
<path d="M3121.8 893.6 L3155.8 893.6 L3138.8 863.6Z" fill="#f00"/>
<path d="M3145.2 895.0 L3179.2 895.0 L3162.2 865.0Z" fill="#f00"/>
<path d="M3168.6 896.0 L3202.6 896.0 L3185.6 866.0Z" fill="#f00"/>
<path d="M3192.0 899.3 L3226.0 899.3 L3209.0 869.3Z" fill="#f00"/>
<path d="M3215.5 945.0 L3249.5 945.0 L3232.5 915.0Z" fill="#f00"/>
<path d="M3238.9 940.3 L3272.9 940.3 L3255.9 910.3Z" fill="#f00"/>
<path d="M3262.3 945.0 L3296.3 945.0 L3279.3 915.0Z" fill="#f00"/>
<path d="M3285.7 940.3 L3319.7 940.3 L3302.7 910.3Z" fill="#f00"/>
<path d="M3309.1 941.0 L3343.1 941.0 L3326.1 911.0Z" fill="#f00"/>
<path d="M3332.5 939.0 L3366.5 939.0 L3349.5 909.0Z" fill="#f00"/>
<path d="M3355.9 946.8 L3389.9 946.8 L3372.9 916.8Z" fill="#f00"/>
<path d="M3379.3 949.0 L3413.3 949.0 L3396.3 919.0Z" fill="#f00"/>
<path d="M3402.8 951.0 L3436.8 951.0 L3419.8 921.0Z" fill="#f00"/>
<path d="M3426.2 951.0 L3460.2 951.0 L3443.2 921.0Z" fill="#f00"/>
<path d="M3449.6 952.0 L3483.6 952.0 L3466.6 922.0Z" fill="#f00"/>
<path d="M3473.0 952.0 L3507.0 952.0 L3490.0 922.0Z" fill="#f00"/>
<path d="M3496.4 948.5 L3530.4 948.5 L3513.4 918.5Z" fill="#f00"/>
<path d="M3519.8 948.5 L3553.8 948.5 L3536.8 918.5Z" fill="#f00"/>
<path d="M3543.2 943.6 L3577.2 943.6 L3560.2 913.6Z" fill="#f00"/>
<path d="M3566.6 842.5 L3600.6 842.5 L3583.6 812.5Z" fill="#f00"/>
<path d="M3590.1 847.0 L3624.1 847.0 L3607.1 817.0Z" fill="#f00"/>
<path d="M288.8 543.5 L322.8 543.5 L305.8 573.5Z" fill="#f00"/>
<path d="M312.2 532.0 L346.2 532.0 L329.2 562.0Z" fill="#f00"/>
<path d="M335.6 539.0 L369.6 539.0 L352.6 569.0Z" fill="#f00"/>
<path d="M359.0 509.0 L393.0 509.0 L376.0 539.0Z" fill="#f00"/>
<path d="M382.5 485.5 L416.5 485.5 L399.5 515.5Z" fill="#f00"/>
<path d="M405.9 466.0 L439.9 466.0 L422.9 496.0Z" fill="#f00"/>
<path d="M429.3 475.5 L463.3 475.5 L446.3 505.5Z" fill="#f00"/>
<path d="M452.7 486.0 L486.7 486.0 L469.7 516.0Z" fill="#f00"/>
<path d="M476.1 528.0 L510.1 528.0 L493.1 558.0Z" fill="#f00"/>
<path d="M499.5 522.5 L533.5 522.5 L516.5 552.5Z" fill="#f00"/>
<path d="M522.9 547.5 L556.9 547.5 L539.9 577.5Z" fill="#f00"/>
<path d="M546.3 560.0 L580.3 560.0 L563.3 590.0Z" fill="#f00"/>
<path d="M569.8 564.0 L603.8 564.0 L586.8 594.0Z" fill="#f00"/>
<path d="M593.2 620.5 L627.2 620.5 L610.2 650.5Z" fill="#f00"/>
<path d="M382.5 697.0 L416.5 697.0 L399.5 727.0Z" fill="#f00"/>
<path d="M616.6 721.5 L650.6 721.5 L633.6 751.5Z" fill="#f00"/>
<path d="M640.0 718.7 L674.0 718.7 L657.0 748.7Z" fill="#f00"/>
<path d="M663.4 720.0 L697.4 720.0 L680.4 750.0Z" fill="#f00"/>
<path d="M686.8 725.5 L720.8 725.5 L703.8 755.5Z" fill="#f00"/>
<path d="M733.7 825.0 L767.7 825.0 L750.7 855.0Z" fill="#f00"/>
<path d="M803.9 458.8 L837.9 458.8 L820.9 488.8Z" fill="#f00"/>
<path d="M827.3 459.5 L861.3 459.5 L844.3 489.5Z" fill="#f00"/>
<path d="M850.7 440.0 L884.7 440.0 L867.7 470.0Z" fill="#f00"/>
<path d="M874.1 449.8 L908.1 449.8 L891.1 479.8Z" fill="#f00"/>
<path d="M897.5 445.7 L931.5 445.7 L914.5 475.7Z" fill="#f00"/>
<path d="M921.0 444.8 L955.0 444.8 L938.0 474.8Z" fill="#f00"/>
<path d="M944.4 452.7 L978.4 452.7 L961.4 482.7Z" fill="#f00"/>
<path d="M967.8 452.7 L1001.8 452.7 L984.8 482.7Z" fill="#f00"/>
<path d="M991.2 769.0 L1025.2 769.0 L1008.2 799.0Z" fill="#f00"/>
<path d="M1553.1 851.0 L1587.1 851.0 L1570.1 881.0Z" fill="#f00"/>
<path d="M1576.5 851.0 L1610.5 851.0 L1593.5 881.0Z" fill="#f00"/>
<path d="M1599.9 846.0 L1633.9 846.0 L1616.9 876.0Z" fill="#f00"/>
<path d="M1646.8 837.0 L1680.8 837.0 L1663.8 867.0Z" fill="#f00"/>
<path d="M1787.2 446.0 L1821.2 446.0 L1804.2 476.0Z" fill="#f00"/>
<path d="M1810.7 450.6 L1844.7 450.6 L1827.7 480.6Z" fill="#f00"/>
<path d="M1834.1 458.8 L1868.1 458.8 L1851.1 488.8Z" fill="#f00"/>
<path d="M1857.5 470.0 L1891.5 470.0 L1874.5 500.0Z" fill="#f00"/>
<path d="M1927.7 908.7 L1961.7 908.7 L1944.7 938.7Z" fill="#f00"/>
<path d="M1951.1 904.0 L1985.1 904.0 L1968.1 934.0Z" fill="#f00"/>
<path d="M1974.6 897.0 L2008.6 897.0 L1991.6 927.0Z" fill="#f00"/>
<path d="M1998.0 890.0 L2032.0 890.0 L2015.0 920.0Z" fill="#f00"/>
<path d="M2021.4 890.0 L2055.4 890.0 L2038.4 920.0Z" fill="#f00"/>
<path d="M2044.8 890.0 L2078.8 890.0 L2061.8 920.0Z" fill="#f00"/>
<path d="M2068.2 890.0 L2102.2 890.0 L2085.2 920.0Z" fill="#f00"/>
<path d="M2091.6 890.0 L2125.6 890.0 L2108.6 920.0Z" fill="#f00"/>
<path d="M2115.0 890.0 L2149.0 890.0 L2132.0 920.0Z" fill="#f00"/>
<path d="M2138.4 878.0 L2172.4 878.0 L2155.4 908.0Z" fill="#f00"/>
<path d="M2161.9 878.0 L2195.9 878.0 L2178.9 908.0Z" fill="#f00"/>
<path d="M2185.3 878.0 L2219.3 878.0 L2202.3 908.0Z" fill="#f00"/>
<path d="M2208.7 878.0 L2242.7 878.0 L2225.7 908.0Z" fill="#f00"/>
<path d="M2232.1 882.0 L2266.1 882.0 L2249.1 912.0Z" fill="#f00"/>
<path d="M2255.5 911.8 L2289.5 911.8 L2272.5 941.8Z" fill="#f00"/>
<path d="M2278.9 899.0 L2312.9 899.0 L2295.9 929.0Z" fill="#f00"/>
<path d="M2302.3 894.0 L2336.3 894.0 L2319.3 924.0Z" fill="#f00"/>
<path d="M2325.8 825.0 L2359.8 825.0 L2342.8 855.0Z" fill="#f00"/>
<path d="M2489.6 751.4 L2523.6 751.4 L2506.6 781.4Z" fill="#f00"/>
<path d="M2513.1 753.5 L2547.1 753.5 L2530.1 783.5Z" fill="#f00"/>
<path d="M2536.5 754.0 L2570.5 754.0 L2553.5 784.0Z" fill="#f00"/>
<path d="M2559.9 752.7 L2593.9 752.7 L2576.9 782.7Z" fill="#f00"/>
<path d="M2583.3 751.0 L2617.3 751.0 L2600.3 781.0Z" fill="#f00"/>
<path d="M2676.9 792.0 L2710.9 792.0 L2693.9 822.0Z" fill="#f00"/>
<path d="M2747.2 750.8 L2781.2 750.8 L2764.2 780.8Z" fill="#f00"/>
<path d="M2770.6 749.0 L2804.6 749.0 L2787.6 779.0Z" fill="#f00"/>
<path d="M2840.8 731.0 L2874.8 731.0 L2857.8 761.0Z" fill="#f00"/>
<path d="M2864.3 729.6 L2898.3 729.6 L2881.3 759.6Z" fill="#f00"/>
<path d="M2887.7 729.6 L2921.7 729.6 L2904.7 759.6Z" fill="#f00"/>
<path d="M2911.1 725.5 L2945.1 725.5 L2928.1 755.5Z" fill="#f00"/>
<path d="M2934.5 722.8 L2968.5 722.8 L2951.5 752.8Z" fill="#f00"/>
<path d="M2957.9 721.0 L2991.9 721.0 L2974.9 751.0Z" fill="#f00"/>
<path d="M2981.3 720.0 L3015.3 720.0 L2998.3 750.0Z" fill="#f00"/>
<path d="M3004.7 717.4 L3038.7 717.4 L3021.7 747.4Z" fill="#f00"/>
<path d="M3028.1 712.0 L3062.1 712.0 L3045.1 742.0Z" fill="#f00"/>
<path d="M3051.6 710.6 L3085.6 710.6 L3068.6 740.6Z" fill="#f00"/>
<path d="M3075.0 709.0 L3109.0 709.0 L3092.0 739.0Z" fill="#f00"/>
<path d="M3098.4 715.5 L3132.4 715.5 L3115.4 745.5Z" fill="#f00"/>
<path d="M3121.8 724.0 L3155.8 724.0 L3138.8 754.0Z" fill="#f00"/>
<path d="M3145.2 727.0 L3179.2 727.0 L3162.2 757.0Z" fill="#f00"/>
<path d="M3168.6 714.0 L3202.6 714.0 L3185.6 744.0Z" fill="#f00"/>
<path d="M3192.0 694.3 L3226.0 694.3 L3209.0 724.3Z" fill="#f00"/>
<path d="M3215.5 687.0 L3249.5 687.0 L3232.5 717.0Z" fill="#f00"/>
<path d="M3238.9 688.8 L3272.9 688.8 L3255.9 718.8Z" fill="#f00"/>
<path d="M3262.3 684.0 L3296.3 684.0 L3279.3 714.0Z" fill="#f00"/>
<path d="M3285.7 687.0 L3319.7 687.0 L3302.7 717.0Z" fill="#f00"/>
<path d="M3309.1 611.0 L3343.1 611.0 L3326.1 641.0Z" fill="#f00"/>
<path d="M3332.5 611.0 L3366.5 611.0 L3349.5 641.0Z" fill="#f00"/>
<path d="M3355.9 608.2 L3389.9 608.2 L3372.9 638.2Z" fill="#f00"/>
<path d="M3379.3 601.4 L3413.3 601.4 L3396.3 631.4Z" fill="#f00"/>
<path d="M3402.8 599.5 L3436.8 599.5 L3419.8 629.5Z" fill="#f00"/>
<path d="M3426.2 602.8 L3460.2 602.8 L3443.2 632.8Z" fill="#f00"/>
<path d="M3449.6 603.0 L3483.6 603.0 L3466.6 633.0Z" fill="#f00"/>
<path d="M3473.0 603.0 L3507.0 603.0 L3490.0 633.0Z" fill="#f00"/>
<path d="M3496.4 592.7 L3530.4 592.7 L3513.4 622.7Z" fill="#f00"/>
<path d="M3519.8 581.6 L3553.8 581.6 L3536.8 611.6Z" fill="#f00"/>
<path d="M3543.2 581.6 L3577.2 581.6 L3560.2 611.6Z" fill="#f00"/>
<path d="M3566.6 584.3 L3600.6 584.3 L3583.6 614.3Z" fill="#f00"/>
<path d="M3590.1 591.4 L3624.1 591.4 L3607.1 621.4Z" fill="#f00"/>
<path d="M3613.5 583.2 L3647.5 583.2 L3630.5 613.2Z" fill="#f00"/>
<path d="M387.4 868.1 L411.5 868.1 L399.5 846.8Z" fill="#fff" stroke="#f00" stroke-width="5.73" stroke-miterlimit="10"/>
<path d="M457.6 872.5 L481.8 872.5 L469.7 851.2Z" fill="#fff" stroke="#f00" stroke-width="5.73" stroke-miterlimit="10"/>
<path d="M481.0 864.6 L505.2 864.6 L493.1 843.3Z" fill="#fff" stroke="#f00" stroke-width="5.73" stroke-miterlimit="10"/>
<path d="M527.9 872.1 L552.0 872.1 L539.9 850.8Z" fill="#fff" stroke="#f00" stroke-width="5.73" stroke-miterlimit="10"/>
<path d="M808.8 857.1 L833.0 857.1 L820.9 835.8Z" fill="#fff" stroke="#f00" stroke-width="5.73" stroke-miterlimit="10"/>
<path d="M832.2 857.8 L856.4 857.8 L844.3 836.5Z" fill="#fff" stroke="#f00" stroke-width="5.73" stroke-miterlimit="10"/>
<path d="M855.6 588.1 L879.8 588.1 L867.7 566.8Z" fill="#fff" stroke="#f00" stroke-width="5.73" stroke-miterlimit="10"/>
<path d="M879.1 858.1 L903.2 858.1 L891.1 836.8Z" fill="#fff" stroke="#f00" stroke-width="5.73" stroke-miterlimit="10"/>
<path d="M902.5 865.1 L926.6 865.1 L914.5 843.8Z" fill="#fff" stroke="#f00" stroke-width="5.73" stroke-miterlimit="10"/>
<path d="M925.9 862.7 L950.0 862.7 L938.0 841.4Z" fill="#fff" stroke="#f00" stroke-width="5.73" stroke-miterlimit="10"/>
<path d="M949.3 864.1 L973.5 864.1 L961.4 842.8Z" fill="#fff" stroke="#f00" stroke-width="5.73" stroke-miterlimit="10"/>
<path d="M972.7 863.1 L996.9 863.1 L984.8 841.8Z" fill="#fff" stroke="#f00" stroke-width="5.73" stroke-miterlimit="10"/>
<path d="M3571.6 938.8 L3595.7 938.8 L3583.6 917.5Z" fill="#fff" stroke="#f00" stroke-width="5.73" stroke-miterlimit="10"/>
<path d="M3595.0 938.8 L3619.1 938.8 L3607.1 917.5Z" fill="#fff" stroke="#f00" stroke-width="5.73" stroke-miterlimit="10"/>
<path d="M3618.4 842.1 L3642.6 842.1 L3630.5 820.8Z" fill="#fff" stroke="#f00" stroke-width="5.73" stroke-miterlimit="10"/>
<path d="M457.6 716.2 L481.8 716.2 L469.7 737.5Z" fill="#fff" stroke="#f00" stroke-width="5.73" stroke-miterlimit="10"/>
<path d="M481.0 712.7 L505.2 712.7 L493.1 734.0Z" fill="#fff" stroke="#f00" stroke-width="5.73" stroke-miterlimit="10"/>
<path d="M527.9 704.5 L552.0 704.5 L539.9 725.8Z" fill="#fff" stroke="#f00" stroke-width="5.73" stroke-miterlimit="10"/>
<path d="M808.8 827.6 L833.0 827.6 L820.9 848.9Z" fill="#fff" stroke="#f00" stroke-width="5.73" stroke-miterlimit="10"/>
<path d="M832.2 777.9 L856.4 777.9 L844.3 799.2Z" fill="#fff" stroke="#f00" stroke-width="5.73" stroke-miterlimit="10"/>
<path d="M855.6 546.9 L879.8 546.9 L867.7 568.2Z" fill="#fff" stroke="#f00" stroke-width="5.73" stroke-miterlimit="10"/>
<path d="M879.1 762.9 L903.2 762.9 L891.1 784.2Z" fill="#fff" stroke="#f00" stroke-width="5.73" stroke-miterlimit="10"/>
<path d="M902.5 761.9 L926.6 761.9 L914.5 783.2Z" fill="#fff" stroke="#f00" stroke-width="5.73" stroke-miterlimit="10"/>
<path d="M925.9 763.9 L950.0 763.9 L938.0 785.2Z" fill="#fff" stroke="#f00" stroke-width="5.73" stroke-miterlimit="10"/>
<path d="M949.3 764.9 L973.5 764.9 L961.4 786.2Z" fill="#fff" stroke="#f00" stroke-width="5.73" stroke-miterlimit="10"/>
<path d="M972.7 767.9 L996.9 767.9 L984.8 789.2Z" fill="#fff" stroke="#f00" stroke-width="5.73" stroke-miterlimit="10"/>
<path d="M3571.6 898.3 L3595.7 898.3 L3583.6 919.6Z" fill="#fff" stroke="#f00" stroke-width="5.73" stroke-miterlimit="10"/>
<path d="M3595.0 898.3 L3619.1 898.3 L3607.1 919.6Z" fill="#fff" stroke="#f00" stroke-width="5.73" stroke-miterlimit="10"/>
<path d="M3618.4 731.2 L3642.6 731.2 L3630.5 752.5Z" fill="#fff" stroke="#f00" stroke-width="5.73" stroke-miterlimit="10"/>
<path d="M305.8 661.5 V699.5 M279.8 661.5 H331.8 M279.8 699.5 H331.8" stroke="#32cd32" stroke-width="4.2" fill="none"/><circle cx="305.8" cy="680.5" r="16.5" fill="#32cd32"/>
<path d="M329.2 677.0 V707.0 M303.2 677.0 H355.2 M303.2 707.0 H355.2" stroke="#32cd32" stroke-width="4.2" fill="none"/><circle cx="329.2" cy="692.0" r="16.5" fill="#32cd32"/>
<path d="M352.6 712.5 V720.5 M326.6 712.5 H378.6 M326.6 720.5 H378.6" stroke="#32cd32" stroke-width="4.2" fill="none"/><circle cx="352.6" cy="716.5" r="16.5" fill="#32cd32"/>
<path d="M376.0 704.0 V744.0 M350.0 704.0 H402.0 M350.0 744.0 H402.0" stroke="#32cd32" stroke-width="4.2" fill="none"/><circle cx="376.0" cy="724.0" r="16.5" fill="#32cd32"/>
<path d="M399.5 706.5 V730.5 M373.5 706.5 H425.5 M373.5 730.5 H425.5" stroke="#32cd32" stroke-width="4.2" fill="none"/><circle cx="399.5" cy="718.5" r="16.5" fill="#32cd32"/>
<path d="M539.9 645.0 V671.0 M513.9 645.0 H565.9 M513.9 671.0 H565.9" stroke="#32cd32" stroke-width="4.2" fill="none"/><circle cx="539.9" cy="658.0" r="16.5" fill="#32cd32"/>
<path d="M563.3 668.5 V700.5 M537.3 668.5 H589.3 M537.3 700.5 H589.3" stroke="#32cd32" stroke-width="4.2" fill="none"/><circle cx="563.3" cy="684.5" r="16.5" fill="#32cd32"/>
<path d="M586.8 654.0 V682.0 M560.8 654.0 H612.8 M560.8 682.0 H612.8" stroke="#32cd32" stroke-width="4.2" fill="none"/><circle cx="586.8" cy="668.0" r="16.5" fill="#32cd32"/>
<path d="M610.2 670.0 V698.0 M584.2 670.0 H636.2 M584.2 698.0 H636.2" stroke="#32cd32" stroke-width="4.2" fill="none"/><circle cx="610.2" cy="684.0" r="16.5" fill="#32cd32"/>
<path d="M633.6 698.0 V724.0 M607.6 698.0 H659.6 M607.6 724.0 H659.6" stroke="#32cd32" stroke-width="4.2" fill="none"/><circle cx="633.6" cy="711.0" r="16.5" fill="#32cd32"/>
<path d="M657.0 723.0 V731.0 M631.0 723.0 H683.0 M631.0 731.0 H683.0" stroke="#32cd32" stroke-width="4.2" fill="none"/><circle cx="657.0" cy="727.0" r="16.5" fill="#32cd32"/>
<path d="M680.4 715.0 V723.0 M654.4 715.0 H706.4 M654.4 723.0 H706.4" stroke="#32cd32" stroke-width="4.2" fill="none"/><circle cx="680.4" cy="719.0" r="16.5" fill="#32cd32"/>
<path d="M703.8 716.0 V724.0 M677.8 716.0 H729.8 M677.8 724.0 H729.8" stroke="#32cd32" stroke-width="4.2" fill="none"/><circle cx="703.8" cy="720.0" r="16.5" fill="#32cd32"/>
<path d="M727.2 751.3 V773.3 M701.2 751.3 H753.2 M701.2 773.3 H753.2" stroke="#32cd32" stroke-width="4.2" fill="none"/><circle cx="727.2" cy="762.3" r="16.5" fill="#32cd32"/>
<path d="M750.7 727.8 V739.8 M724.7 727.8 H776.7 M724.7 739.8 H776.7" stroke="#32cd32" stroke-width="4.2" fill="none"/><circle cx="750.7" cy="733.8" r="16.5" fill="#32cd32"/>
<path d="M820.9 704.0 V750.0 M794.9 704.0 H846.9 M794.9 750.0 H846.9" stroke="#32cd32" stroke-width="4.2" fill="none"/><circle cx="820.9" cy="727.0" r="16.5" fill="#32cd32"/>
<path d="M844.3 723.0 V739.0 M818.3 723.0 H870.3 M818.3 739.0 H870.3" stroke="#32cd32" stroke-width="4.2" fill="none"/><circle cx="844.3" cy="731.0" r="16.5" fill="#32cd32"/>
<path d="M867.7 720.0 V726.0 M841.7 720.0 H893.7 M841.7 726.0 H893.7" stroke="#32cd32" stroke-width="4.2" fill="none"/><circle cx="867.7" cy="723.0" r="16.5" fill="#32cd32"/>
<path d="M891.1 718.5 V724.5 M865.1 718.5 H917.1 M865.1 724.5 H917.1" stroke="#32cd32" stroke-width="4.2" fill="none"/><circle cx="891.1" cy="721.5" r="16.5" fill="#32cd32"/>
<path d="M914.5 721.0 V727.0 M888.5 721.0 H940.5 M888.5 727.0 H940.5" stroke="#32cd32" stroke-width="4.2" fill="none"/><circle cx="914.5" cy="724.0" r="16.5" fill="#32cd32"/>
<path d="M938.0 716.0 V722.0 M912.0 716.0 H964.0 M912.0 722.0 H964.0" stroke="#32cd32" stroke-width="4.2" fill="none"/><circle cx="938.0" cy="719.0" r="16.5" fill="#32cd32"/>
<path d="M961.4 733.5 V757.5 M935.4 733.5 H987.4 M935.4 757.5 H987.4" stroke="#32cd32" stroke-width="4.2" fill="none"/><circle cx="961.4" cy="745.5" r="16.5" fill="#32cd32"/>
<path d="M984.8 731.0 V751.0 M958.8 731.0 H1010.8 M958.8 751.0 H1010.8" stroke="#32cd32" stroke-width="4.2" fill="none"/><circle cx="984.8" cy="741.0" r="16.5" fill="#32cd32"/>
<path d="M1008.2 738.5 V758.5 M982.2 738.5 H1034.2 M982.2 758.5 H1034.2" stroke="#32cd32" stroke-width="4.2" fill="none"/><circle cx="1008.2" cy="748.5" r="16.5" fill="#32cd32"/>
<path d="M1101.9 805.1 V828.1 M1075.9 805.1 H1127.9 M1075.9 828.1 H1127.9" stroke="#32cd32" stroke-width="4.2" fill="none"/><circle cx="1101.9" cy="816.6" r="16.5" fill="#32cd32"/>
<path d="M1312.6 796.5 V828.5 M1286.6 796.5 H1338.6 M1286.6 828.5 H1338.6" stroke="#32cd32" stroke-width="4.2" fill="none"/><circle cx="1312.6" cy="812.5" r="16.5" fill="#32cd32"/>
<path d="M1336.0 814.0 V822.0 M1310.0 814.0 H1362.0 M1310.0 822.0 H1362.0" stroke="#32cd32" stroke-width="4.2" fill="none"/><circle cx="1336.0" cy="818.0" r="16.5" fill="#32cd32"/>
<path d="M1359.4 809.5 V815.5 M1333.4 809.5 H1385.4 M1333.4 815.5 H1385.4" stroke="#32cd32" stroke-width="4.2" fill="none"/><circle cx="1359.4" cy="812.5" r="16.5" fill="#32cd32"/>
<path d="M1382.8 813.6 V819.6 M1356.8 813.6 H1408.8 M1356.8 819.6 H1408.8" stroke="#32cd32" stroke-width="4.2" fill="none"/><circle cx="1382.8" cy="816.6" r="16.5" fill="#32cd32"/>
<path d="M1406.2 808.0 V814.0 M1380.2 808.0 H1432.2 M1380.2 814.0 H1432.2" stroke="#32cd32" stroke-width="4.2" fill="none"/><circle cx="1406.2" cy="811.0" r="16.5" fill="#32cd32"/>
<path d="M1429.6 801.4 V807.4 M1403.6 801.4 H1455.6 M1403.6 807.4 H1455.6" stroke="#32cd32" stroke-width="4.2" fill="none"/><circle cx="1429.6" cy="804.4" r="16.5" fill="#32cd32"/>
<path d="M1453.0 803.3 V809.3 M1427.0 803.3 H1479.0 M1427.0 809.3 H1479.0" stroke="#32cd32" stroke-width="4.2" fill="none"/><circle cx="1453.0" cy="806.3" r="16.5" fill="#32cd32"/>
<path d="M1476.5 798.7 V804.7 M1450.5 798.7 H1502.5 M1450.5 804.7 H1502.5" stroke="#32cd32" stroke-width="4.2" fill="none"/><circle cx="1476.5" cy="801.7" r="16.5" fill="#32cd32"/>
<path d="M1499.9 794.6 V800.6 M1473.9 794.6 H1525.9 M1473.9 800.6 H1525.9" stroke="#32cd32" stroke-width="4.2" fill="none"/><circle cx="1499.9" cy="797.6" r="16.5" fill="#32cd32"/>
<path d="M1523.3 803.8 V807.8 M1497.3 803.8 H1549.3 M1497.3 807.8 H1549.3" stroke="#32cd32" stroke-width="4.2" fill="none"/><circle cx="1523.3" cy="805.8" r="16.5" fill="#32cd32"/>
<path d="M1570.1 858.5 V864.5 M1544.1 858.5 H1596.1 M1544.1 864.5 H1596.1" stroke="#32cd32" stroke-width="4.2" fill="none"/><circle cx="1570.1" cy="861.5" r="16.5" fill="#32cd32"/>
<path d="M1593.5 858.5 V864.5 M1567.5 858.5 H1619.5 M1567.5 864.5 H1619.5" stroke="#32cd32" stroke-width="4.2" fill="none"/><circle cx="1593.5" cy="861.5" r="16.5" fill="#32cd32"/>
<path d="M1616.9 845.7 V851.7 M1590.9 845.7 H1642.9 M1590.9 851.7 H1642.9" stroke="#32cd32" stroke-width="4.2" fill="none"/><circle cx="1616.9" cy="848.7" r="16.5" fill="#32cd32"/>
<path d="M1640.4 843.4 V849.4 M1614.4 843.4 H1666.4 M1614.4 849.4 H1666.4" stroke="#32cd32" stroke-width="4.2" fill="none"/><circle cx="1640.4" cy="846.4" r="16.5" fill="#32cd32"/>
<path d="M1663.8 836.4 V842.4 M1637.8 836.4 H1689.8 M1637.8 842.4 H1689.8" stroke="#32cd32" stroke-width="4.2" fill="none"/><circle cx="1663.8" cy="839.4" r="16.5" fill="#32cd32"/>
<path d="M1687.2 836.4 V842.4 M1661.2 836.4 H1713.2 M1661.2 842.4 H1713.2" stroke="#32cd32" stroke-width="4.2" fill="none"/><circle cx="1687.2" cy="839.4" r="16.5" fill="#32cd32"/>
<path d="M1710.6 834.0 V840.0 M1684.6 834.0 H1736.6 M1684.6 840.0 H1736.6" stroke="#32cd32" stroke-width="4.2" fill="none"/><circle cx="1710.6" cy="837.0" r="16.5" fill="#32cd32"/>
<path d="M1734.0 808.5 V814.5 M1708.0 808.5 H1760.0 M1708.0 814.5 H1760.0" stroke="#32cd32" stroke-width="4.2" fill="none"/><circle cx="1734.0" cy="811.5" r="16.5" fill="#32cd32"/>
<path d="M1757.4 813.0 V821.0 M1731.4 813.0 H1783.4 M1731.4 821.0 H1783.4" stroke="#32cd32" stroke-width="4.2" fill="none"/><circle cx="1757.4" cy="817.0" r="16.5" fill="#32cd32"/>
<path d="M1780.8 888.5 V894.5 M1754.8 888.5 H1806.8 M1754.8 894.5 H1806.8" stroke="#32cd32" stroke-width="4.2" fill="none"/><circle cx="1780.8" cy="891.5" r="16.5" fill="#32cd32"/>
<path d="M1804.2 872.0 V878.0 M1778.2 872.0 H1830.2 M1778.2 878.0 H1830.2" stroke="#32cd32" stroke-width="4.2" fill="none"/><circle cx="1804.2" cy="875.0" r="16.5" fill="#32cd32"/>
<path d="M1827.7 615.9 V701.1 M1801.7 615.9 H1853.7 M1801.7 701.1 H1853.7" stroke="#32cd32" stroke-width="4.2" fill="none"/><circle cx="1827.7" cy="658.5" r="16.5" fill="#32cd32"/>
<path d="M1851.1 821.5 V832.5 M1825.1 821.5 H1877.1 M1825.1 832.5 H1877.1" stroke="#32cd32" stroke-width="4.2" fill="none"/><circle cx="1851.1" cy="827.0" r="16.5" fill="#32cd32"/>
<path d="M1874.5 821.0 V835.0 M1848.5 821.0 H1900.5 M1848.5 835.0 H1900.5" stroke="#32cd32" stroke-width="4.2" fill="none"/><circle cx="1874.5" cy="828.0" r="16.5" fill="#32cd32"/>
<path d="M1921.3 625.3 V743.3 M1895.3 625.3 H1947.3 M1895.3 743.3 H1947.3" stroke="#32cd32" stroke-width="4.2" fill="none"/><circle cx="1921.3" cy="684.3" r="16.5" fill="#32cd32"/>
<path d="M1944.7 711.0 V959.5 M1918.7 711.0 H1970.7 M1918.7 959.5 H1970.7" stroke="#32cd32" stroke-width="4.2" fill="none"/><circle cx="1944.7" cy="832.5" r="16.5" fill="#32cd32"/>
<path d="M1968.1 938.6 V944.6 M1942.1 938.6 H1994.1 M1942.1 944.6 H1994.1" stroke="#32cd32" stroke-width="4.2" fill="none"/><circle cx="1968.1" cy="941.6" r="16.5" fill="#32cd32"/>
<path d="M1991.6 925.6 V931.6 M1965.6 925.6 H2017.6 M1965.6 931.6 H2017.6" stroke="#32cd32" stroke-width="4.2" fill="none"/><circle cx="1991.6" cy="928.6" r="16.5" fill="#32cd32"/>
<path d="M2015.0 892.0 V896.0 M1989.0 892.0 H2041.0 M1989.0 896.0 H2041.0" stroke="#32cd32" stroke-width="4.2" fill="none"/><circle cx="2015.0" cy="894.0" r="16.5" fill="#32cd32"/>
<circle cx="2038.4" cy="891.4" r="16.5" fill="#32cd32"/>
<circle cx="2061.8" cy="890.0" r="16.5" fill="#32cd32"/>
<circle cx="2085.2" cy="886.0" r="16.5" fill="#32cd32"/>
<circle cx="2108.6" cy="888.6" r="16.5" fill="#32cd32"/>
<circle cx="2132.0" cy="881.3" r="16.5" fill="#32cd32"/>
<circle cx="2155.4" cy="880.5" r="16.5" fill="#32cd32"/>
<circle cx="2178.9" cy="880.5" r="16.5" fill="#32cd32"/>
<circle cx="2202.3" cy="875.0" r="16.5" fill="#32cd32"/>
<circle cx="2225.7" cy="873.7" r="16.5" fill="#32cd32"/>
<circle cx="2249.1" cy="879.0" r="16.5" fill="#32cd32"/>
<circle cx="2272.5" cy="875.0" r="16.5" fill="#32cd32"/>
<path d="M2295.9 867.0 V873.0 M2269.9 867.0 H2321.9 M2269.9 873.0 H2321.9" stroke="#32cd32" stroke-width="4.2" fill="none"/><circle cx="2295.9" cy="870.0" r="16.5" fill="#32cd32"/>
<path d="M2319.3 851.0 V857.0 M2293.3 851.0 H2345.3 M2293.3 857.0 H2345.3" stroke="#32cd32" stroke-width="4.2" fill="none"/><circle cx="2319.3" cy="854.0" r="16.5" fill="#32cd32"/>
<path d="M2342.8 805.0 V823.0 M2316.8 805.0 H2368.8 M2316.8 823.0 H2368.8" stroke="#32cd32" stroke-width="4.2" fill="none"/><circle cx="2342.8" cy="814.0" r="16.5" fill="#32cd32"/>
<path d="M2506.6 750.8 V754.8 M2480.6 750.8 H2532.6 M2480.6 754.8 H2532.6" stroke="#32cd32" stroke-width="4.2" fill="none"/><circle cx="2506.6" cy="752.8" r="16.5" fill="#32cd32"/>
<path d="M2530.1 746.7 V750.7 M2504.1 746.7 H2556.1 M2504.1 750.7 H2556.1" stroke="#32cd32" stroke-width="4.2" fill="none"/><circle cx="2530.1" cy="748.7" r="16.5" fill="#32cd32"/>
<path d="M2553.5 753.5 V757.5 M2527.5 753.5 H2579.5 M2527.5 757.5 H2579.5" stroke="#32cd32" stroke-width="4.2" fill="none"/><circle cx="2553.5" cy="755.5" r="16.5" fill="#32cd32"/>
<path d="M2576.9 757.0 V765.0 M2550.9 757.0 H2602.9 M2550.9 765.0 H2602.9" stroke="#32cd32" stroke-width="4.2" fill="none"/><circle cx="2576.9" cy="761.0" r="16.5" fill="#32cd32"/>
<path d="M2600.3 747.0 V753.0 M2574.3 747.0 H2626.3 M2574.3 753.0 H2626.3" stroke="#32cd32" stroke-width="4.2" fill="none"/><circle cx="2600.3" cy="750.0" r="16.5" fill="#32cd32"/>
<path d="M2623.7 743.8 V769.8 M2597.7 743.8 H2649.7 M2597.7 769.8 H2649.7" stroke="#32cd32" stroke-width="4.2" fill="none"/><circle cx="2623.7" cy="756.8" r="16.5" fill="#32cd32"/>
<path d="M2693.9 791.7 V806.3 M2667.9 791.7 H2719.9 M2667.9 806.3 H2719.9" stroke="#32cd32" stroke-width="4.2" fill="none"/><circle cx="2693.9" cy="799.0" r="16.5" fill="#32cd32"/>
<path d="M2764.2 756.4 V776.4 M2738.2 756.4 H2790.2 M2738.2 776.4 H2790.2" stroke="#32cd32" stroke-width="4.2" fill="none"/><circle cx="2764.2" cy="766.4" r="16.5" fill="#32cd32"/>
<path d="M2787.6 776.9 V792.3 M2761.6 776.9 H2813.6 M2761.6 792.3 H2813.6" stroke="#32cd32" stroke-width="4.2" fill="none"/><circle cx="2787.6" cy="784.6" r="16.5" fill="#32cd32"/>
<path d="M2857.8 738.0 V742.0 M2831.8 738.0 H2883.8 M2831.8 742.0 H2883.8" stroke="#32cd32" stroke-width="4.2" fill="none"/><circle cx="2857.8" cy="740.0" r="16.5" fill="#32cd32"/>
<circle cx="2881.3" cy="732.4" r="16.5" fill="#32cd32"/>
<circle cx="2904.7" cy="735.0" r="16.5" fill="#32cd32"/>
<circle cx="2928.1" cy="727.0" r="16.5" fill="#32cd32"/>
<circle cx="2951.5" cy="720.0" r="16.5" fill="#32cd32"/>
<circle cx="2974.9" cy="717.4" r="16.5" fill="#32cd32"/>
<circle cx="2998.3" cy="716.6" r="16.5" fill="#32cd32"/>
<circle cx="3021.7" cy="714.0" r="16.5" fill="#32cd32"/>
<path d="M3068.6 708.5 V712.5 M3042.6 708.5 H3094.6 M3042.6 712.5 H3094.6" stroke="#32cd32" stroke-width="4.2" fill="none"/><circle cx="3068.6" cy="710.5" r="16.5" fill="#32cd32"/>
<path d="M3092.0 708.5 V712.5 M3066.0 708.5 H3118.0 M3066.0 712.5 H3118.0" stroke="#32cd32" stroke-width="4.2" fill="none"/><circle cx="3092.0" cy="710.5" r="16.5" fill="#32cd32"/>
<path d="M3115.4 713.8 V717.8 M3089.4 713.8 H3141.4 M3089.4 717.8 H3141.4" stroke="#32cd32" stroke-width="4.2" fill="none"/><circle cx="3115.4" cy="715.8" r="16.5" fill="#32cd32"/>
<path d="M3138.8 724.5 V730.5 M3112.8 724.5 H3164.8 M3112.8 730.5 H3164.8" stroke="#32cd32" stroke-width="4.2" fill="none"/><circle cx="3138.8" cy="727.5" r="16.5" fill="#32cd32"/>
<path d="M3162.2 751.6 V767.6 M3136.2 751.6 H3188.2 M3136.2 767.6 H3188.2" stroke="#32cd32" stroke-width="4.2" fill="none"/><circle cx="3162.2" cy="759.6" r="16.5" fill="#32cd32"/>
<path d="M3232.5 693.5 V697.5 M3206.5 693.5 H3258.5 M3206.5 697.5 H3258.5" stroke="#32cd32" stroke-width="4.2" fill="none"/><circle cx="3232.5" cy="695.5" r="16.5" fill="#32cd32"/>
<circle cx="3255.9" cy="691.0" r="16.5" fill="#32cd32"/>
<circle cx="3279.3" cy="689.8" r="16.5" fill="#32cd32"/>
<circle cx="3302.7" cy="698.0" r="16.5" fill="#32cd32"/>
<path d="M3326.1 693.2 V697.2 M3300.1 693.2 H3352.1 M3300.1 697.2 H3352.1" stroke="#32cd32" stroke-width="4.2" fill="none"/><circle cx="3326.1" cy="695.2" r="16.5" fill="#32cd32"/>
<path d="M422.9 548.5 V587.5 M396.9 548.5 H448.9 M396.9 587.5 H448.9" stroke="#0000ff" stroke-width="4.2" fill="none"/><circle cx="422.9" cy="568.0" r="16.5" fill="#0000ff"/>
<path d="M446.3 555.0 V561.0 M420.3 555.0 H472.3 M420.3 561.0 H472.3" stroke="#0000ff" stroke-width="4.2" fill="none"/><circle cx="446.3" cy="558.0" r="16.5" fill="#0000ff"/>
<path d="M469.7 548.6 V556.6 M443.7 548.6 H495.7 M443.7 556.6 H495.7" stroke="#0000ff" stroke-width="4.2" fill="none"/><circle cx="469.7" cy="552.6" r="16.5" fill="#0000ff"/>
<path d="M493.1 582.5 V597.1 M467.1 582.5 H519.1 M467.1 597.1 H519.1" stroke="#0000ff" stroke-width="4.2" fill="none"/><circle cx="493.1" cy="589.8" r="16.5" fill="#0000ff"/>
<path d="M516.5 630.0 V643.6 M490.5 630.0 H542.5 M490.5 643.6 H542.5" stroke="#0000ff" stroke-width="4.2" fill="none"/><circle cx="516.5" cy="636.8" r="16.5" fill="#0000ff"/>
<path d="M1546.7 685.2 V732.2 M1520.7 685.2 H1572.7 M1520.7 732.2 H1572.7" stroke="#0000ff" stroke-width="4.2" fill="none"/><circle cx="1546.7" cy="708.8" r="16.5" fill="#0000ff"/>
<path d="M3045.1 718.0 V722.0 M3019.1 718.0 H3071.1 M3019.1 722.0 H3071.1" stroke="#0000ff" stroke-width="4.2" fill="none"/><circle cx="3045.1" cy="720.0" r="16.5" fill="#0000ff"/>
<path d="M3185.6 737.0 V743.0 M3159.6 737.0 H3211.6 M3159.6 743.0 H3211.6" stroke="#0000ff" stroke-width="4.2" fill="none"/><circle cx="3185.6" cy="740.0" r="16.5" fill="#0000ff"/>
<path d="M3209.0 734.0 V740.0 M3183.0 734.0 H3235.0 M3183.0 740.0 H3235.0" stroke="#0000ff" stroke-width="4.2" fill="none"/><circle cx="3209.0" cy="737.0" r="16.5" fill="#0000ff"/>
<path d="M3349.5 671.8 V677.8 M3323.5 671.8 H3375.5 M3323.5 677.8 H3375.5" stroke="#0000ff" stroke-width="4.2" fill="none"/><circle cx="3349.5" cy="674.8" r="16.5" fill="#0000ff"/>
<path d="M3372.9 650.0 V656.0 M3346.9 650.0 H3398.9 M3346.9 656.0 H3398.9" stroke="#0000ff" stroke-width="4.2" fill="none"/><circle cx="3372.9" cy="653.0" r="16.5" fill="#0000ff"/>
<path d="M3396.3 618.3 V624.3 M3370.3 618.3 H3422.3 M3370.3 624.3 H3422.3" stroke="#0000ff" stroke-width="4.2" fill="none"/><circle cx="3396.3" cy="621.3" r="16.5" fill="#0000ff"/>
<path d="M3419.8 619.8 V623.8 M3393.8 619.8 H3445.8 M3393.8 623.8 H3445.8" stroke="#0000ff" stroke-width="4.2" fill="none"/><circle cx="3419.8" cy="621.8" r="16.5" fill="#0000ff"/>
<path d="M3443.2 659.6 V665.6 M3417.2 659.6 H3469.2 M3417.2 665.6 H3469.2" stroke="#0000ff" stroke-width="4.2" fill="none"/><circle cx="3443.2" cy="662.6" r="16.5" fill="#0000ff"/>
<path d="M3466.6 620.7 V624.7 M3440.6 620.7 H3492.6 M3440.6 624.7 H3492.6" stroke="#0000ff" stroke-width="4.2" fill="none"/><circle cx="3466.6" cy="622.7" r="16.5" fill="#0000ff"/>
<path d="M3490.0 653.8 V657.8 M3464.0 653.8 H3516.0 M3464.0 657.8 H3516.0" stroke="#0000ff" stroke-width="4.2" fill="none"/><circle cx="3490.0" cy="655.8" r="16.5" fill="#0000ff"/>
<path d="M3513.4 644.7 V650.7 M3487.4 644.7 H3539.4 M3487.4 650.7 H3539.4" stroke="#0000ff" stroke-width="4.2" fill="none"/><circle cx="3513.4" cy="647.7" r="16.5" fill="#0000ff"/>
<path d="M3536.8 597.8 V626.8 M3510.8 597.8 H3562.8 M3510.8 626.8 H3562.8" stroke="#0000ff" stroke-width="4.2" fill="none"/><circle cx="3536.8" cy="612.3" r="16.5" fill="#0000ff"/>
<path d="M3560.2 610.7 V616.7 M3534.2 610.7 H3586.2 M3534.2 616.7 H3586.2" stroke="#0000ff" stroke-width="4.2" fill="none"/><circle cx="3560.2" cy="613.7" r="16.5" fill="#0000ff"/>
<path d="M3583.6 621.2 V625.2 M3557.6 621.2 H3609.6 M3557.6 625.2 H3609.6" stroke="#0000ff" stroke-width="4.2" fill="none"/><circle cx="3583.6" cy="623.2" r="16.5" fill="#0000ff"/>
<path d="M3607.1 629.7 V635.7 M3581.1 629.7 H3633.1 M3581.1 635.7 H3633.1" stroke="#0000ff" stroke-width="4.2" fill="none"/><circle cx="3607.1" cy="632.7" r="16.5" fill="#0000ff"/>
<path d="M3630.5 624.4 V681.6 M3604.5 624.4 H3656.5 M3604.5 681.6 H3656.5" stroke="#0000ff" stroke-width="4.2" fill="none"/><circle cx="3630.5" cy="653.0" r="16.5" fill="#0000ff"/>
<path d="M266.0 521.0 L500.0 522.0 L760.0 524.0 L960.0 523.5 L1160.0 527.0 L1557.0 528.2" fill="none" stroke="#000" stroke-width="3.8" stroke-linejoin="round"/>
<path d="M1667.0 530.3 L1986.0 534.9 L2360.0 534.0 L2500.0 535.9 L2791.0 527.0 L3080.0 524.7 L3228.0 525.0 L3400.0 528.5 L3640.0 535.0" fill="none" stroke="#000" stroke-width="3.8" stroke-linejoin="round"/>
<path d="M266.0 645.0 L450.0 646.3 L613.0 649.0 L960.0 651.7 L1557.0 652.5" fill="none" stroke="#000" stroke-width="3.8" stroke-linejoin="round"/>
<path d="M1667.0 652.5 L2081.0 654.5 L2360.0 662.5 L2500.0 663.0 L3100.0 663.0 L3320.0 666.9 L3640.0 674.0" fill="none" stroke="#000" stroke-width="3.8" stroke-linejoin="round"/>
<path d="M266.0 842.4 L590.0 840.5 L960.0 840.5 L1575.0 841.0" fill="none" stroke="#000" stroke-width="3.8" stroke-linejoin="round"/>
<path d="M1680.0 842.4 L1812.0 839.7 L1945.0 841.0 L2360.0 858.0 L2512.0 855.5 L2659.0 855.5 L2849.0 859.6 L3050.0 860.6 L3213.0 866.0 L3260.0 872.0 L3294.6 880.5 L3305.0 886.0 L3312.0 890.0 L3316.0 898.0 L3312.0 905.0 L3313.0 909.0 L3322.0 911.7 L3357.0 921.0 L3430.0 928.6 L3512.0 931.3 L3640.0 931.3" fill="none" stroke="#000" stroke-width="3.8" stroke-linejoin="round"/>
<path d="M266.0 887.3 L532.0 888.6 L960.0 892.0 L1355.0 896.8" fill="none" stroke="#000" stroke-width="3.8" stroke-linejoin="round"/>
<path d="M1460.0 900.3 L1660.0 904.0 L1823.0 909.0 L1945.0 907.7 L2060.0 916.5 L2064.0 921.0 L2068.0 923.4 L2110.0 923.4 L2116.0 922.0 L2120.0 919.6 L2320.0 915.7 L2360.0 916.6 L2653.5 931.3 L2795.0 952.0 L2850.0 957.0" fill="none" stroke="#000" stroke-width="3.8" stroke-linejoin="round"/>
<path d="M266.0 931.3 L531.7 947.0 L681.0 952.0 L817.0 955.0 L830.0 955.5" fill="none" stroke="#000" stroke-width="3.8" stroke-linejoin="round"/>
<path d="M266.0 135.6 L337.0 138.7 L521.0 142.6 L540.0 141.0 L553.5 141.0 L674.6 151.7 L725.9 151.2 L728.0 148.0 L730.5 145.4 L753.8 138.4 L770.0 129.0 L786.4 124.5 L800.4 114.4 L811.0 110.0" fill="none" stroke="#000" stroke-width="3.8" stroke-linejoin="round"/>
<path d="M266.0 211.8 L346.0 216.5 L516.0 228.0 L542.0 228.6 L547.7 231.0 L562.8 243.0 L575.6 248.3 L516.0 248.6 L409.0 245.6 L271.6 228.0 L266.0 221.0" fill="none" stroke="#000" stroke-width="3.8" stroke-linejoin="round"/>
<text class="lb" x="1615" y="552.5" font-size="58.33" text-anchor="middle">230</text>
<text class="lb" x="1615" y="675.7" font-size="58.33" text-anchor="middle">250</text>
<text class="lb" x="1627.6" y="862.5" font-size="58.33" text-anchor="middle">273</text>
<text class="lb" x="1407" y="919.7" font-size="58.33" text-anchor="middle">279</text>
<text class="lb" x="872.5" y="979.0" font-size="58.33" text-anchor="middle">279</text>
<text class="lb" x="1545" y="117.2" font-size="58.33" text-anchor="middle">220</text>
</g>
<path d="M266.0 109.1 V959.9" stroke="#000" stroke-width="5.8" fill="none"/>
<path d="M263.1 957.0 H3640.4" stroke="#000" stroke-width="5.8" fill="none"/>
<path d="M266.0 112.0 H347.0" stroke="#000" stroke-width="5.8"/>
<text class="dv" x="233" y="136.6" font-size="66.67" text-anchor="end">16.0</text>
<path d="M266.0 217.6 H347.0" stroke="#000" stroke-width="5.8"/>
<text class="dv" x="233" y="242.2" font-size="66.67" text-anchor="end">14.1</text>
<path d="M266.0 323.2 H347.0" stroke="#000" stroke-width="5.8"/>
<text class="dv" x="233" y="347.9" font-size="66.67" text-anchor="end">12.1</text>
<path d="M266.0 428.9 H347.0" stroke="#000" stroke-width="5.8"/>
<text class="dv" x="233" y="453.5" font-size="66.67" text-anchor="end">10.1</text>
<path d="M266.0 534.5 H347.0" stroke="#000" stroke-width="5.8"/>
<text class="dv" x="233" y="559.1" font-size="66.67" text-anchor="end">8.17</text>
<path d="M266.0 640.1 H347.0" stroke="#000" stroke-width="5.8"/>
<text class="dv" x="233" y="664.7" font-size="66.67" text-anchor="end">6.19</text>
<path d="M266.0 745.8 H347.0" stroke="#000" stroke-width="5.8"/>
<text class="dv" x="233" y="770.4" font-size="66.67" text-anchor="end">4.21</text>
<path d="M266.0 851.4 H347.0" stroke="#000" stroke-width="5.8"/>
<text class="dv" x="233" y="876.0" font-size="66.67" text-anchor="end">2.23</text>
<text class="dv" x="233" y="981.6" font-size="66.67" text-anchor="end">0.25</text>
<text class="dv" x="266.0" y="1036.5" font-size="75" text-anchor="middle">0</text>
<path d="M336.2 957.0 V924.0" stroke="#000" stroke-width="5.8"/>
<path d="M406.5 957.0 V924.0" stroke="#000" stroke-width="5.8"/>
<path d="M476.7 957.0 V924.0" stroke="#000" stroke-width="5.8"/>
<path d="M547.0 957.0 V895.0" stroke="#000" stroke-width="5.8"/>
<text class="dv" x="547.0" y="1036.5" font-size="75" text-anchor="middle">2</text>
<path d="M617.2 957.0 V924.0" stroke="#000" stroke-width="5.8"/>
<path d="M687.4 957.0 V924.0" stroke="#000" stroke-width="5.8"/>
<path d="M757.7 957.0 V924.0" stroke="#000" stroke-width="5.8"/>
<path d="M827.9 957.0 V895.0" stroke="#000" stroke-width="5.8"/>
<text class="dv" x="827.9" y="1036.5" font-size="75" text-anchor="middle">4</text>
<path d="M898.2 957.0 V924.0" stroke="#000" stroke-width="5.8"/>
<path d="M968.4 957.0 V924.0" stroke="#000" stroke-width="5.8"/>
<path d="M1038.6 957.0 V924.0" stroke="#000" stroke-width="5.8"/>
<path d="M1108.9 957.0 V895.0" stroke="#000" stroke-width="5.8"/>
<text class="dv" x="1108.9" y="1036.5" font-size="75" text-anchor="middle">6</text>
<path d="M1179.1 957.0 V924.0" stroke="#000" stroke-width="5.8"/>
<path d="M1249.4 957.0 V924.0" stroke="#000" stroke-width="5.8"/>
<path d="M1319.6 957.0 V924.0" stroke="#000" stroke-width="5.8"/>
<path d="M1389.8 957.0 V895.0" stroke="#000" stroke-width="5.8"/>
<text class="dv" x="1389.8" y="1036.5" font-size="75" text-anchor="middle">8</text>
<path d="M1460.1 957.0 V924.0" stroke="#000" stroke-width="5.8"/>
<path d="M1530.3 957.0 V924.0" stroke="#000" stroke-width="5.8"/>
<path d="M1600.6 957.0 V924.0" stroke="#000" stroke-width="5.8"/>
<path d="M1670.8 957.0 V895.0" stroke="#000" stroke-width="5.8"/>
<text class="dv" x="1670.8" y="1036.5" font-size="75" text-anchor="middle">10</text>
<path d="M1741.0 957.0 V924.0" stroke="#000" stroke-width="5.8"/>
<path d="M1811.3 957.0 V924.0" stroke="#000" stroke-width="5.8"/>
<path d="M1881.5 957.0 V924.0" stroke="#000" stroke-width="5.8"/>
<path d="M1951.8 957.0 V895.0" stroke="#000" stroke-width="5.8"/>
<text class="dv" x="1951.8" y="1036.5" font-size="75" text-anchor="middle">12</text>
<path d="M2022.0 957.0 V924.0" stroke="#000" stroke-width="5.8"/>
<path d="M2092.2 957.0 V924.0" stroke="#000" stroke-width="5.8"/>
<path d="M2162.5 957.0 V924.0" stroke="#000" stroke-width="5.8"/>
<path d="M2232.7 957.0 V895.0" stroke="#000" stroke-width="5.8"/>
<text class="dv" x="2232.7" y="1036.5" font-size="75" text-anchor="middle">14</text>
<path d="M2302.9 957.0 V924.0" stroke="#000" stroke-width="5.8"/>
<path d="M2373.2 957.0 V924.0" stroke="#000" stroke-width="5.8"/>
<path d="M2443.4 957.0 V924.0" stroke="#000" stroke-width="5.8"/>
<path d="M2513.7 957.0 V895.0" stroke="#000" stroke-width="5.8"/>
<text class="dv" x="2513.7" y="1036.5" font-size="75" text-anchor="middle">16</text>
<path d="M2583.9 957.0 V924.0" stroke="#000" stroke-width="5.8"/>
<path d="M2654.1 957.0 V924.0" stroke="#000" stroke-width="5.8"/>
<path d="M2724.4 957.0 V924.0" stroke="#000" stroke-width="5.8"/>
<path d="M2794.6 957.0 V895.0" stroke="#000" stroke-width="5.8"/>
<text class="dv" x="2794.6" y="1036.5" font-size="75" text-anchor="middle">18</text>
<path d="M2864.9 957.0 V924.0" stroke="#000" stroke-width="5.8"/>
<path d="M2935.1 957.0 V924.0" stroke="#000" stroke-width="5.8"/>
<path d="M3005.3 957.0 V924.0" stroke="#000" stroke-width="5.8"/>
<path d="M3075.6 957.0 V895.0" stroke="#000" stroke-width="5.8"/>
<text class="dv" x="3075.6" y="1036.5" font-size="75" text-anchor="middle">20</text>
<path d="M3145.8 957.0 V924.0" stroke="#000" stroke-width="5.8"/>
<path d="M3216.1 957.0 V924.0" stroke="#000" stroke-width="5.8"/>
<path d="M3286.3 957.0 V924.0" stroke="#000" stroke-width="5.8"/>
<path d="M3356.5 957.0 V895.0" stroke="#000" stroke-width="5.8"/>
<text class="dv" x="3356.5" y="1036.5" font-size="75" text-anchor="middle">22</text>
<path d="M3426.8 957.0 V924.0" stroke="#000" stroke-width="5.8"/>
<path d="M3497.0 957.0 V924.0" stroke="#000" stroke-width="5.8"/>
<path d="M3567.3 957.0 V924.0" stroke="#000" stroke-width="5.8"/>
<path d="M3637.5 957.0 V895.0" stroke="#000" stroke-width="5.8"/>
<text class="dv" x="3637.5" y="1036.5" font-size="75" text-anchor="middle">24</text>
<path d="M3637.5 957.0 V895.0" stroke="#000" stroke-width="5.8"/>
<text class="dv" x="1952" y="1115.5" font-size="76.2" text-anchor="middle">Time (UTC)</text>
<text class="dv" transform="translate(37,532) rotate(-90)" font-size="66.67" text-anchor="middle">Height AMSL (km)</text>
<text class="lb" x="1953.5" y="77.5" font-size="100.7" text-anchor="middle">Lindenberg: 2025/11/16</text>
<rect x="266.0" y="1144" width="3371.5" height="55" fill="url(#cb)"/>
<path d="M263.1 1199 H3640.4" stroke="#000" stroke-width="7"/>
<path d="M266.0 1199 V1183" stroke="#000" stroke-width="5.6"/>
<path d="M378.4 1199 V1190" stroke="#000" stroke-width="5.6"/>
<path d="M490.8 1199 V1190" stroke="#000" stroke-width="5.6"/>
<path d="M603.1 1199 V1190" stroke="#000" stroke-width="5.6"/>
<path d="M715.5 1199 V1190" stroke="#000" stroke-width="5.6"/>
<path d="M827.9 1199 V1190" stroke="#000" stroke-width="5.6"/>
<path d="M940.3 1199 V1190" stroke="#000" stroke-width="5.6"/>
<path d="M1052.7 1199 V1190" stroke="#000" stroke-width="5.6"/>
<path d="M1165.1 1199 V1190" stroke="#000" stroke-width="5.6"/>
<path d="M1277.5 1199 V1190" stroke="#000" stroke-width="5.6"/>
<path d="M1389.8 1199 V1183" stroke="#000" stroke-width="5.6"/>
<path d="M1502.2 1199 V1190" stroke="#000" stroke-width="5.6"/>
<path d="M1614.6 1199 V1190" stroke="#000" stroke-width="5.6"/>
<path d="M1727.0 1199 V1190" stroke="#000" stroke-width="5.6"/>
<path d="M1839.4 1199 V1190" stroke="#000" stroke-width="5.6"/>
<path d="M1951.8 1199 V1190" stroke="#000" stroke-width="5.6"/>
<path d="M2064.1 1199 V1190" stroke="#000" stroke-width="5.6"/>
<path d="M2176.5 1199 V1190" stroke="#000" stroke-width="5.6"/>
<path d="M2288.9 1199 V1190" stroke="#000" stroke-width="5.6"/>
<path d="M2401.3 1199 V1190" stroke="#000" stroke-width="5.6"/>
<path d="M2513.7 1199 V1183" stroke="#000" stroke-width="5.6"/>
<path d="M2626.1 1199 V1190" stroke="#000" stroke-width="5.6"/>
<path d="M2738.4 1199 V1190" stroke="#000" stroke-width="5.6"/>
<path d="M2850.8 1199 V1190" stroke="#000" stroke-width="5.6"/>
<path d="M2963.2 1199 V1190" stroke="#000" stroke-width="5.6"/>
<path d="M3075.6 1199 V1190" stroke="#000" stroke-width="5.6"/>
<path d="M3188.0 1199 V1190" stroke="#000" stroke-width="5.6"/>
<path d="M3300.3 1199 V1190" stroke="#000" stroke-width="5.6"/>
<path d="M3412.7 1199 V1190" stroke="#000" stroke-width="5.6"/>
<path d="M3525.1 1199 V1190" stroke="#000" stroke-width="5.6"/>
<path d="M3637.5 1199 V1183" stroke="#000" stroke-width="5.6"/>
<text class="dv" x="258" y="1262" font-size="58.33" text-anchor="middle">Clear</text>
<text class="dv" x="1390" y="1262" font-size="58.33" text-anchor="middle">Water</text>
<text class="dv" x="2513" y="1262" font-size="58.33" text-anchor="middle">Ice</text>
<text class="dv" x="3637" y="1262" font-size="58.33" text-anchor="middle">Other</text>
<rect x="249" y="1313" width="651" height="247.5" fill="#fff" stroke="#000" stroke-width="5.6"/>
<circle cx="287" cy="1384" r="17" fill="#32cd32"/>
<path d="M271 1465 L303 1496 M303 1465 L271 1496" stroke="#32cd32" stroke-width="5.6" fill="none"/>
<text class="dv" x="325" y="1405" font-size="58.33">FCI-OCA SL Wat</text>
<text class="dv" x="325" y="1502" font-size="58.33">OCA High Err Wat</text>
<rect x="1065" y="1313" width="548" height="142" fill="#fff" stroke="#000" stroke-width="5.6"/>
<circle cx="1103" cy="1384" r="17" fill="#0000ff"/>
<text class="dv" x="1141" y="1405" font-size="58.33">FCI-OCA SL Ice</text>
<rect x="2327.5" y="1313" width="560.5" height="402" fill="#fff" stroke="#000" stroke-width="5.6"/>
<path d="M2348.5 1395.0 L2382.5 1395.0 L2365.5 1365.0 Z" fill="#f00"/>
<path d="M2348.5 1460.0 L2382.5 1460.0 L2365.5 1490.0 Z" fill="#f00"/>
<path d="M2353.4 1566.1 L2377.6 1566.1 L2365.5 1544.8 Z" fill="#fff" stroke="#f00" stroke-width="5.73"/>
<path d="M2353.4 1635.9 L2377.6 1635.9 L2365.5 1657.2 Z" fill="#fff" stroke="#f00" stroke-width="5.73"/>
<text class="dv" x="2403" y="1405.5" font-size="58.33">ACTRIS CBH</text>
<text class="dv" x="2403" y="1492.5" font-size="58.33">ACTRIS CTH</text>
<text class="dv" x="2403" y="1579" font-size="58.33">ACTRIS CBH BL</text>
<text class="dv" x="2403" y="1665.5" font-size="58.33">ACTRIS CTH BL</text>
</svg></body></html>
